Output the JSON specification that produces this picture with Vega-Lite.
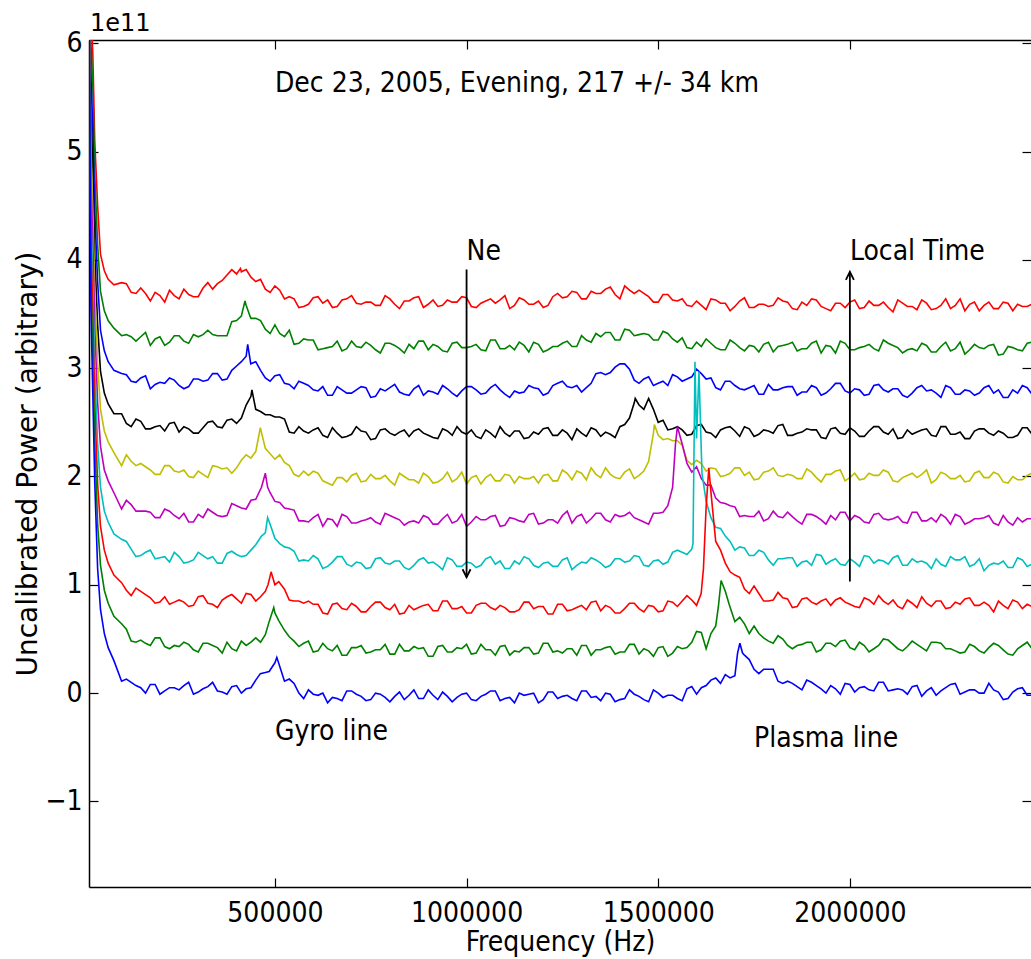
{
"$schema": "https://vega.github.io/schema/vega-lite/v6.json",
"width": 942,
"height": 847,
"autosize": {"type": "none"},
"padding": {"left": 89, "top": 40, "right": 0, "bottom": 72},
"background": "white",
"view": {"stroke": null},
"config": {"font": "DejaVu Sans"},
"datasets": {
"spec": [
{"s":9,"f":15000,"p":6.5},{"s":9,"f":20000,"p":6.3},{"s":9,"f":25000,"p":5.9},{"s":9,"f":30000,"p":5.1},{"s":9,"f":37500,"p":4.5},{"s":9,"f":45000,"p":4.05},{"s":9,"f":55000,"p":3.9},{"s":9,"f":65000,"p":3.82},{"s":9,"f":80000,"p":3.77},
{"s":9,"f":100000,"p":3.79},{"s":9,"f":125000,"p":3.70},{"s":9,"f":150000,"p":3.74},{"s":9,"f":175000,"p":3.62},{"s":9,"f":200000,"p":3.67},{"s":9,"f":225000,"p":3.72},{"s":9,"f":250000,"p":3.64},{"s":9,"f":275000,"p":3.68},{"s":9,"f":300000,"p":3.66},{"s":9,"f":325000,"p":3.79},{"s":9,"f":350000,"p":3.78},{"s":9,"f":375000,"p":3.86},{"s":9,"f":400000,"p":3.87},{"s":9,"f":410000,"p":3.92},{"s":9,"f":425000,"p":3.91},{"s":9,"f":450000,"p":3.80},{"s":9,"f":475000,"p":3.73},{"s":9,"f":500000,"p":3.76},{"s":9,"f":525000,"p":3.64},{"s":9,"f":550000,"p":3.64},{"s":9,"f":575000,"p":3.57},{"s":9,"f":600000,"p":3.65},{"s":9,"f":625000,"p":3.60},{"s":9,"f":650000,"p":3.56},{"s":9,"f":675000,"p":3.63},{"s":9,"f":700000,"p":3.67},{"s":9,"f":725000,"p":3.59},{"s":9,"f":750000,"p":3.61},{"s":9,"f":775000,"p":3.58},{"s":9,"f":800000,"p":3.64},{"s":9,"f":825000,"p":3.55},{"s":9,"f":850000,"p":3.62},{"s":9,"f":875000,"p":3.66},{"s":9,"f":900000,"p":3.59},{"s":9,"f":925000,"p":3.57},{"s":9,"f":950000,"p":3.63},{"s":9,"f":975000,"p":3.61},{"s":9,"f":1000000,"p":3.65},{"s":9,"f":1025000,"p":3.56},{"s":9,"f":1050000,"p":3.62},{"s":9,"f":1075000,"p":3.60},{"s":9,"f":1100000,"p":3.67},{"s":9,"f":1125000,"p":3.58},{"s":9,"f":1150000,"p":3.63},{"s":9,"f":1175000,"p":3.59},{"s":9,"f":1200000,"p":3.56},{"s":9,"f":1225000,"p":3.66},{"s":9,"f":1250000,"p":3.65},{"s":9,"f":1275000,"p":3.71},{"s":9,"f":1300000,"p":3.64},{"s":9,"f":1325000,"p":3.71},{"s":9,"f":1350000,"p":3.69},{"s":9,"f":1375000,"p":3.75},{"s":9,"f":1400000,"p":3.64},{"s":9,"f":1425000,"p":3.72},{"s":9,"f":1450000,"p":3.72},{"s":9,"f":1475000,"p":3.66},{"s":9,"f":1500000,"p":3.61},{"s":9,"f":1525000,"p":3.68},{"s":9,"f":1550000,"p":3.62},{"s":9,"f":1575000,"p":3.58},{"s":9,"f":1600000,"p":3.62},{"s":9,"f":1625000,"p":3.54},{"s":9,"f":1650000,"p":3.63},{"s":9,"f":1675000,"p":3.60},{"s":9,"f":1700000,"p":3.57},{"s":9,"f":1725000,"p":3.65},{"s":9,"f":1750000,"p":3.56},{"s":9,"f":1775000,"p":3.59},{"s":9,"f":1800000,"p":3.58},{"s":9,"f":1825000,"p":3.62},{"s":9,"f":1850000,"p":3.55},{"s":9,"f":1875000,"p":3.61},{"s":9,"f":1900000,"p":3.64},{"s":9,"f":1925000,"p":3.57},{"s":9,"f":1950000,"p":3.53},{"s":9,"f":1975000,"p":3.60},{"s":9,"f":2000000,"p":3.61},{"s":9,"f":2025000,"p":3.55},{"s":9,"f":2050000,"p":3.62},{"s":9,"f":2075000,"p":3.58},{"s":9,"f":2100000,"p":3.56},{"s":9,"f":2125000,"p":3.63},{"s":9,"f":2150000,"p":3.57},{"s":9,"f":2175000,"p":3.54},{"s":9,"f":2200000,"p":3.60},{"s":9,"f":2225000,"p":3.55},{"s":9,"f":2250000,"p":3.64},{"s":9,"f":2275000,"p":3.58},{"s":9,"f":2300000,"p":3.53},{"s":9,"f":2325000,"p":3.61},{"s":9,"f":2350000,"p":3.58},{"s":9,"f":2375000,"p":3.55},{"s":9,"f":2400000,"p":3.61},{"s":9,"f":2425000,"p":3.53},{"s":9,"f":2450000,"p":3.57},{"s":9,"f":2475000,"p":3.59},
{"s":9,"f":112500,"p":3.78},{"s":9,"f":137500,"p":3.69},{"s":9,"f":162500,"p":3.69},{"s":9,"f":187500,"p":3.70},{"s":9,"f":212500,"p":3.61},{"s":9,"f":237500,"p":3.67},{"s":9,"f":262500,"p":3.73},{"s":9,"f":287500,"p":3.66},{"s":9,"f":312500,"p":3.74},{"s":9,"f":337500,"p":3.73},{"s":9,"f":362500,"p":3.81},{"s":9,"f":387500,"p":3.91},{"s":9,"f":412500,"p":3.89},{"s":9,"f":437500,"p":3.84},{"s":9,"f":462500,"p":3.82},{"s":9,"f":487500,"p":3.70},{"s":9,"f":512500,"p":3.72},{"s":9,"f":537500,"p":3.66},{"s":9,"f":562500,"p":3.56},{"s":9,"f":587500,"p":3.59},{"s":9,"f":612500,"p":3.66},{"s":9,"f":637500,"p":3.63},{"s":9,"f":662500,"p":3.57},{"s":9,"f":687500,"p":3.64},{"s":9,"f":712500,"p":3.60},{"s":9,"f":737500,"p":3.61},{"s":9,"f":762500,"p":3.58},{"s":9,"f":787500,"p":3.67},{"s":9,"f":812500,"p":3.59},{"s":9,"f":837500,"p":3.62},{"s":9,"f":862500,"p":3.65},{"s":9,"f":887500,"p":3.56},{"s":9,"f":912500,"p":3.63},{"s":9,"f":937500,"p":3.58},{"s":9,"f":962500,"p":3.61},{"s":9,"f":987500,"p":3.66},{"s":9,"f":1012500,"p":3.57},{"s":9,"f":1037500,"p":3.60},{"s":9,"f":1062500,"p":3.64},{"s":9,"f":1087500,"p":3.63},{"s":9,"f":1112500,"p":3.55},{"s":9,"f":1137500,"p":3.65},{"s":9,"f":1162500,"p":3.59},{"s":9,"f":1187500,"p":3.62},{"s":9,"f":1212500,"p":3.58},{"s":9,"f":1237500,"p":3.69},{"s":9,"f":1262500,"p":3.66},{"s":9,"f":1287500,"p":3.70},{"s":9,"f":1312500,"p":3.64},{"s":9,"f":1337500,"p":3.69},{"s":9,"f":1362500,"p":3.73},{"s":9,"f":1387500,"p":3.68},{"s":9,"f":1412500,"p":3.76},{"s":9,"f":1437500,"p":3.69},{"s":9,"f":1462500,"p":3.69},{"s":9,"f":1487500,"p":3.61},{"s":9,"f":1512500,"p":3.68},{"s":9,"f":1537500,"p":3.63},{"s":9,"f":1562500,"p":3.64},{"s":9,"f":1587500,"p":3.57},{"s":9,"f":1612500,"p":3.58},{"s":9,"f":1637500,"p":3.64},{"s":9,"f":1662500,"p":3.60},{"s":9,"f":1687500,"p":3.53},{"s":9,"f":1712500,"p":3.62},{"s":9,"f":1737500,"p":3.56},{"s":9,"f":1762500,"p":3.59},{"s":9,"f":1787500,"p":3.57},{"s":9,"f":1812500,"p":3.65},{"s":9,"f":1837500,"p":3.61},{"s":9,"f":1862500,"p":3.54},{"s":9,"f":1887500,"p":3.58},{"s":9,"f":1912500,"p":3.63},{"s":9,"f":1937500,"p":3.55},{"s":9,"f":1962500,"p":3.60},{"s":9,"f":1987500,"p":3.56},{"s":9,"f":2012500,"p":3.63},{"s":9,"f":2037500,"p":3.56},{"s":9,"f":2062500,"p":3.58},{"s":9,"f":2087500,"p":3.61},{"s":9,"f":2112500,"p":3.52},{"s":9,"f":2137500,"p":3.60},{"s":9,"f":2162500,"p":3.57},{"s":9,"f":2187500,"p":3.63},{"s":9,"f":2212500,"p":3.54},{"s":9,"f":2237500,"p":3.58},{"s":9,"f":2262500,"p":3.55},{"s":9,"f":2287500,"p":3.64},{"s":9,"f":2312500,"p":3.59},{"s":9,"f":2337500,"p":3.53},{"s":9,"f":2362500,"p":3.61},{"s":9,"f":2387500,"p":3.55},{"s":9,"f":2412500,"p":3.60},{"s":9,"f":2437500,"p":3.59},{"s":9,"f":2462500,"p":3.57},
{"s":8,"f":15000,"p":6.5},{"s":8,"f":20000,"p":6.0},{"s":8,"f":25000,"p":5.6},{"s":8,"f":30000,"p":4.8},{"s":8,"f":37500,"p":4.14},{"s":8,"f":45000,"p":3.71},{"s":8,"f":55000,"p":3.53},{"s":8,"f":65000,"p":3.44},{"s":8,"f":80000,"p":3.37},
{"s":8,"f":100000,"p":3.30},{"s":8,"f":125000,"p":3.29},{"s":8,"f":150000,"p":3.29},{"s":8,"f":175000,"p":3.21},{"s":8,"f":200000,"p":3.29},{"s":8,"f":225000,"p":3.24},{"s":8,"f":250000,"p":3.30},{"s":8,"f":275000,"p":3.23},{"s":8,"f":300000,"p":3.29},{"s":8,"f":325000,"p":3.35},{"s":8,"f":350000,"p":3.30},{"s":8,"f":375000,"p":3.30},{"s":8,"f":400000,"p":3.44},{"s":8,"f":415000,"p":3.52},{"s":8,"f":422000,"p":3.62},{"s":8,"f":425000,"p":3.58},{"s":8,"f":435000,"p":3.48},{"s":8,"f":450000,"p":3.46},{"s":8,"f":475000,"p":3.36},{"s":8,"f":500000,"p":3.40},{"s":8,"f":525000,"p":3.29},{"s":8,"f":550000,"p":3.22},{"s":8,"f":575000,"p":3.27},{"s":8,"f":600000,"p":3.26},{"s":8,"f":625000,"p":3.18},{"s":8,"f":650000,"p":3.20},{"s":8,"f":675000,"p":3.16},{"s":8,"f":700000,"p":3.25},{"s":8,"f":725000,"p":3.19},{"s":8,"f":750000,"p":3.21},{"s":8,"f":775000,"p":3.14},{"s":8,"f":800000,"p":3.23},{"s":8,"f":825000,"p":3.18},{"s":8,"f":850000,"p":3.22},{"s":8,"f":875000,"p":3.25},{"s":8,"f":900000,"p":3.17},{"s":8,"f":925000,"p":3.20},{"s":8,"f":950000,"p":3.15},{"s":8,"f":975000,"p":3.24},{"s":8,"f":1000000,"p":3.19},{"s":8,"f":1025000,"p":3.22},{"s":8,"f":1050000,"p":3.16},{"s":8,"f":1075000,"p":3.26},{"s":8,"f":1100000,"p":3.18},{"s":8,"f":1125000,"p":3.17},{"s":8,"f":1150000,"p":3.21},{"s":8,"f":1175000,"p":3.24},{"s":8,"f":1200000,"p":3.15},{"s":8,"f":1225000,"p":3.20},{"s":8,"f":1250000,"p":3.23},{"s":8,"f":1275000,"p":3.20},{"s":8,"f":1300000,"p":3.30},{"s":8,"f":1325000,"p":3.24},{"s":8,"f":1350000,"p":3.29},{"s":8,"f":1375000,"p":3.33},{"s":8,"f":1400000,"p":3.26},{"s":8,"f":1425000,"p":3.35},{"s":8,"f":1450000,"p":3.31},{"s":8,"f":1475000,"p":3.31},{"s":8,"f":1500000,"p":3.26},{"s":8,"f":1525000,"p":3.32},{"s":8,"f":1550000,"p":3.24},{"s":8,"f":1575000,"p":3.19},{"s":8,"f":1600000,"p":3.24},{"s":8,"f":1625000,"p":3.27},{"s":8,"f":1650000,"p":3.19},{"s":8,"f":1675000,"p":3.17},{"s":8,"f":1700000,"p":3.23},{"s":8,"f":1725000,"p":3.16},{"s":8,"f":1750000,"p":3.20},{"s":8,"f":1775000,"p":3.22},{"s":8,"f":1800000,"p":3.15},{"s":8,"f":1825000,"p":3.21},{"s":8,"f":1850000,"p":3.24},{"s":8,"f":1875000,"p":3.18},{"s":8,"f":1900000,"p":3.23},{"s":8,"f":1925000,"p":3.14},{"s":8,"f":1950000,"p":3.20},{"s":8,"f":1975000,"p":3.25},{"s":8,"f":2000000,"p":3.17},{"s":8,"f":2025000,"p":3.19},{"s":8,"f":2050000,"p":3.22},{"s":8,"f":2075000,"p":3.16},{"s":8,"f":2100000,"p":3.23},{"s":8,"f":2125000,"p":3.19},{"s":8,"f":2150000,"p":3.17},{"s":8,"f":2175000,"p":3.16},{"s":8,"f":2200000,"p":3.21},{"s":8,"f":2225000,"p":3.15},{"s":8,"f":2250000,"p":3.24},{"s":8,"f":2275000,"p":3.18},{"s":8,"f":2300000,"p":3.13},{"s":8,"f":2325000,"p":3.22},{"s":8,"f":2350000,"p":3.18},{"s":8,"f":2375000,"p":3.22},{"s":8,"f":2400000,"p":3.13},{"s":8,"f":2425000,"p":3.19},{"s":8,"f":2450000,"p":3.16},{"s":8,"f":2475000,"p":3.24},
{"s":8,"f":112500,"p":3.31},{"s":8,"f":137500,"p":3.25},{"s":8,"f":162500,"p":3.33},{"s":8,"f":187500,"p":3.27},{"s":8,"f":212500,"p":3.21},{"s":8,"f":237500,"p":3.30},{"s":8,"f":262500,"p":3.25},{"s":8,"f":287500,"p":3.31},{"s":8,"f":312500,"p":3.31},{"s":8,"f":337500,"p":3.31},{"s":8,"f":362500,"p":3.30},{"s":8,"f":387500,"p":3.43},{"s":8,"f":412500,"p":3.48},{"s":8,"f":437500,"p":3.46},{"s":8,"f":462500,"p":3.44},{"s":8,"f":487500,"p":3.32},{"s":8,"f":512500,"p":3.32},{"s":8,"f":537500,"p":3.35},{"s":8,"f":562500,"p":3.23},{"s":8,"f":587500,"p":3.26},{"s":8,"f":612500,"p":3.17},{"s":8,"f":637500,"p":3.19},{"s":8,"f":662500,"p":3.25},{"s":8,"f":687500,"p":3.18},{"s":8,"f":712500,"p":3.20},{"s":8,"f":737500,"p":3.24},{"s":8,"f":762500,"p":3.17},{"s":8,"f":787500,"p":3.23},{"s":8,"f":812500,"p":3.21},{"s":8,"f":837500,"p":3.14},{"s":8,"f":862500,"p":3.18},{"s":8,"f":887500,"p":3.25},{"s":8,"f":912500,"p":3.22},{"s":8,"f":937500,"p":3.16},{"s":8,"f":962500,"p":3.23},{"s":8,"f":987500,"p":3.19},{"s":8,"f":1012500,"p":3.20},{"s":8,"f":1037500,"p":3.17},{"s":8,"f":1062500,"p":3.26},{"s":8,"f":1087500,"p":3.18},{"s":8,"f":1112500,"p":3.21},{"s":8,"f":1137500,"p":3.24},{"s":8,"f":1162500,"p":3.15},{"s":8,"f":1187500,"p":3.22},{"s":8,"f":1212500,"p":3.17},{"s":8,"f":1237500,"p":3.20},{"s":8,"f":1262500,"p":3.25},{"s":8,"f":1287500,"p":3.20},{"s":8,"f":1312500,"p":3.26},{"s":8,"f":1337500,"p":3.32},{"s":8,"f":1362500,"p":3.33},{"s":8,"f":1387500,"p":3.26},{"s":8,"f":1412500,"p":3.36},{"s":8,"f":1437500,"p":3.30},{"s":8,"f":1462500,"p":3.32},{"s":8,"f":1487500,"p":3.26},{"s":8,"f":1512500,"p":3.34},{"s":8,"f":1537500,"p":3.27},{"s":8,"f":1562500,"p":3.28},{"s":8,"f":1587500,"p":3.18},{"s":8,"f":1612500,"p":3.20},{"s":8,"f":1637500,"p":3.23},{"s":8,"f":1662500,"p":3.17},{"s":8,"f":1687500,"p":3.26},{"s":8,"f":1712500,"p":3.19},{"s":8,"f":1737500,"p":3.21},{"s":8,"f":1762500,"p":3.15},{"s":8,"f":1787500,"p":3.24},{"s":8,"f":1812500,"p":3.20},{"s":8,"f":1837500,"p":3.22},{"s":8,"f":1862500,"p":3.16},{"s":8,"f":1887500,"p":3.18},{"s":8,"f":1912500,"p":3.25},{"s":8,"f":1937500,"p":3.21},{"s":8,"f":1962500,"p":3.14},{"s":8,"f":1987500,"p":3.23},{"s":8,"f":2012500,"p":3.17},{"s":8,"f":2037500,"p":3.20},{"s":8,"f":2062500,"p":3.18},{"s":8,"f":2087500,"p":3.26},{"s":8,"f":2112500,"p":3.21},{"s":8,"f":2137500,"p":3.14},{"s":8,"f":2162500,"p":3.18},{"s":8,"f":2187500,"p":3.23},{"s":8,"f":2212500,"p":3.15},{"s":8,"f":2237500,"p":3.20},{"s":8,"f":2262500,"p":3.16},{"s":8,"f":2287500,"p":3.24},{"s":8,"f":2312500,"p":3.17},{"s":8,"f":2337500,"p":3.19},{"s":8,"f":2362500,"p":3.21},{"s":8,"f":2387500,"p":3.12},{"s":8,"f":2412500,"p":3.20},{"s":8,"f":2437500,"p":3.17},{"s":8,"f":2462500,"p":3.23},
{"s":7,"f":15000,"p":6.5},{"s":7,"f":20000,"p":5.7},{"s":7,"f":25000,"p":5.2},{"s":7,"f":30000,"p":4.45},{"s":7,"f":37500,"p":3.8},{"s":7,"f":45000,"p":3.35},{"s":7,"f":55000,"p":3.16},{"s":7,"f":65000,"p":3.06},{"s":7,"f":80000,"p":2.98},
{"s":7,"f":100000,"p":2.95},{"s":7,"f":125000,"p":2.88},{"s":7,"f":150000,"p":2.91},{"s":7,"f":175000,"p":2.81},{"s":7,"f":200000,"p":2.87},{"s":7,"f":225000,"p":2.91},{"s":7,"f":250000,"p":2.84},{"s":7,"f":275000,"p":2.83},{"s":7,"f":300000,"p":2.90},{"s":7,"f":325000,"p":2.89},{"s":7,"f":350000,"p":2.95},{"s":7,"f":375000,"p":2.90},{"s":7,"f":400000,"p":3.02},{"s":7,"f":425000,"p":3.11},{"s":7,"f":429000,"p":3.22},{"s":7,"f":437000,"p":3.04},{"s":7,"f":450000,"p":3.06},{"s":7,"f":475000,"p":2.91},{"s":7,"f":500000,"p":2.93},{"s":7,"f":525000,"p":2.86},{"s":7,"f":550000,"p":2.81},{"s":7,"f":575000,"p":2.86},{"s":7,"f":600000,"p":2.80},{"s":7,"f":625000,"p":2.83},{"s":7,"f":650000,"p":2.75},{"s":7,"f":675000,"p":2.80},{"s":7,"f":700000,"p":2.77},{"s":7,"f":725000,"p":2.83},{"s":7,"f":750000,"p":2.73},{"s":7,"f":775000,"p":2.81},{"s":7,"f":800000,"p":2.82},{"s":7,"f":825000,"p":2.78},{"s":7,"f":850000,"p":2.75},{"s":7,"f":875000,"p":2.84},{"s":7,"f":900000,"p":2.79},{"s":7,"f":925000,"p":2.76},{"s":7,"f":950000,"p":2.81},{"s":7,"f":975000,"p":2.74},{"s":7,"f":1000000,"p":2.83},{"s":7,"f":1025000,"p":2.80},{"s":7,"f":1050000,"p":2.77},{"s":7,"f":1075000,"p":2.85},{"s":7,"f":1100000,"p":2.76},{"s":7,"f":1125000,"p":2.79},{"s":7,"f":1150000,"p":2.78},{"s":7,"f":1175000,"p":2.82},{"s":7,"f":1200000,"p":2.75},{"s":7,"f":1225000,"p":2.84},{"s":7,"f":1250000,"p":2.88},{"s":7,"f":1275000,"p":2.82},{"s":7,"f":1300000,"p":2.78},{"s":7,"f":1325000,"p":2.86},{"s":7,"f":1350000,"p":2.96},{"s":7,"f":1375000,"p":2.96},{"s":7,"f":1400000,"p":3.04},{"s":7,"f":1425000,"p":2.99},{"s":7,"f":1450000,"p":2.86},{"s":7,"f":1475000,"p":2.92},{"s":7,"f":1500000,"p":2.86},{"s":7,"f":1525000,"p":2.84},{"s":7,"f":1550000,"p":2.92},{"s":7,"f":1575000,"p":2.90},{"s":7,"f":1600000,"p":2.99},{"s":7,"f":1625000,"p":2.90},{"s":7,"f":1650000,"p":2.82},{"s":7,"f":1675000,"p":2.88},{"s":7,"f":1700000,"p":2.84},{"s":7,"f":1725000,"p":2.80},{"s":7,"f":1750000,"p":2.84},{"s":7,"f":1775000,"p":2.76},{"s":7,"f":1800000,"p":2.80},{"s":7,"f":1825000,"p":2.82},{"s":7,"f":1850000,"p":2.83},{"s":7,"f":1875000,"p":2.78},{"s":7,"f":1900000,"p":2.84},{"s":7,"f":1925000,"p":2.75},{"s":7,"f":1950000,"p":2.81},{"s":7,"f":1975000,"p":2.86},{"s":7,"f":2000000,"p":2.77},{"s":7,"f":2025000,"p":2.80},{"s":7,"f":2050000,"p":2.76},{"s":7,"f":2075000,"p":2.85},{"s":7,"f":2100000,"p":2.78},{"s":7,"f":2125000,"p":2.81},{"s":7,"f":2150000,"p":2.73},{"s":7,"f":2175000,"p":2.82},{"s":7,"f":2200000,"p":2.79},{"s":7,"f":2225000,"p":2.77},{"s":7,"f":2250000,"p":2.84},{"s":7,"f":2275000,"p":2.76},{"s":7,"f":2300000,"p":2.80},{"s":7,"f":2325000,"p":2.75},{"s":7,"f":2350000,"p":2.82},{"s":7,"f":2375000,"p":2.77},{"s":7,"f":2400000,"p":2.73},{"s":7,"f":2425000,"p":2.80},{"s":7,"f":2450000,"p":2.84},{"s":7,"f":2475000,"p":2.76},
{"s":7,"f":112500,"p":2.94},{"s":7,"f":137500,"p":2.87},{"s":7,"f":162500,"p":2.93},{"s":7,"f":187500,"p":2.85},{"s":7,"f":212500,"p":2.86},{"s":7,"f":237500,"p":2.89},{"s":7,"f":262500,"p":2.81},{"s":7,"f":287500,"p":2.90},{"s":7,"f":312500,"p":2.88},{"s":7,"f":337500,"p":2.95},{"s":7,"f":362500,"p":2.89},{"s":7,"f":387500,"p":2.98},{"s":7,"f":412500,"p":3.06},{"s":7,"f":462500,"p":2.98},{"s":7,"f":487500,"p":2.88},{"s":7,"f":512500,"p":2.94},{"s":7,"f":537500,"p":2.85},{"s":7,"f":562500,"p":2.88},{"s":7,"f":587500,"p":2.84},{"s":7,"f":612500,"p":2.79},{"s":7,"f":637500,"p":2.75},{"s":7,"f":662500,"p":2.83},{"s":7,"f":687500,"p":2.77},{"s":7,"f":712500,"p":2.80},{"s":7,"f":737500,"p":2.82},{"s":7,"f":762500,"p":2.74},{"s":7,"f":787500,"p":2.79},{"s":7,"f":812500,"p":2.85},{"s":7,"f":837500,"p":2.76},{"s":7,"f":862500,"p":2.81},{"s":7,"f":887500,"p":2.75},{"s":7,"f":912500,"p":2.78},{"s":7,"f":937500,"p":2.84},{"s":7,"f":962500,"p":2.77},{"s":7,"f":987500,"p":2.79},{"s":7,"f":1012500,"p":2.83},{"s":7,"f":1037500,"p":2.76},{"s":7,"f":1062500,"p":2.82},{"s":7,"f":1087500,"p":2.80},{"s":7,"f":1112500,"p":2.73},{"s":7,"f":1137500,"p":2.77},{"s":7,"f":1162500,"p":2.84},{"s":7,"f":1187500,"p":2.81},{"s":7,"f":1212500,"p":2.77},{"s":7,"f":1237500,"p":2.86},{"s":7,"f":1262500,"p":2.83},{"s":7,"f":1287500,"p":2.84},{"s":7,"f":1312500,"p":2.82},{"s":7,"f":1337500,"p":2.95},{"s":7,"f":1362500,"p":2.94},{"s":7,"f":1387500,"p":3.01},{"s":7,"f":1412500,"p":3.04},{"s":7,"f":1437500,"p":2.89},{"s":7,"f":1462500,"p":2.90},{"s":7,"f":1487500,"p":2.84},{"s":7,"f":1512500,"p":2.88},{"s":7,"f":1537500,"p":2.94},{"s":7,"f":1562500,"p":2.88},{"s":7,"f":1587500,"p":2.92},{"s":7,"f":1612500,"p":2.95},{"s":7,"f":1637500,"p":2.91},{"s":7,"f":1662500,"p":2.80},{"s":7,"f":1687500,"p":2.88},{"s":7,"f":1712500,"p":2.81},{"s":7,"f":1737500,"p":2.82},{"s":7,"f":1762500,"p":2.76},{"s":7,"f":1787500,"p":2.85},{"s":7,"f":1812500,"p":2.80},{"s":7,"f":1837500,"p":2.83},{"s":7,"f":1862500,"p":2.75},{"s":7,"f":1887500,"p":2.78},{"s":7,"f":1912500,"p":2.82},{"s":7,"f":1937500,"p":2.77},{"s":7,"f":1962500,"p":2.86},{"s":7,"f":1987500,"p":2.79},{"s":7,"f":2012500,"p":2.81},{"s":7,"f":2037500,"p":2.75},{"s":7,"f":2062500,"p":2.84},{"s":7,"f":2087500,"p":2.80},{"s":7,"f":2112500,"p":2.81},{"s":7,"f":2137500,"p":2.75},{"s":7,"f":2162500,"p":2.77},{"s":7,"f":2187500,"p":2.84},{"s":7,"f":2212500,"p":2.80},{"s":7,"f":2237500,"p":2.73},{"s":7,"f":2262500,"p":2.82},{"s":7,"f":2287500,"p":2.76},{"s":7,"f":2312500,"p":2.79},{"s":7,"f":2337500,"p":2.77},{"s":7,"f":2362500,"p":2.84},{"s":7,"f":2387500,"p":2.80},{"s":7,"f":2412500,"p":2.73},{"s":7,"f":2437500,"p":2.77},{"s":7,"f":2462500,"p":2.82},
{"s":6,"f":15000,"p":6.5},{"s":6,"f":20000,"p":5.35},{"s":6,"f":25000,"p":4.85},{"s":6,"f":30000,"p":4.05},{"s":6,"f":37500,"p":3.4},{"s":6,"f":45000,"p":2.97},{"s":6,"f":55000,"p":2.77},{"s":6,"f":65000,"p":2.67},{"s":6,"f":80000,"p":2.58},
{"s":6,"f":100000,"p":2.58},{"s":6,"f":125000,"p":2.46},{"s":6,"f":150000,"p":2.51},{"s":6,"f":175000,"p":2.44},{"s":6,"f":200000,"p":2.47},{"s":6,"f":225000,"p":2.49},{"s":6,"f":250000,"p":2.41},{"s":6,"f":275000,"p":2.44},{"s":6,"f":300000,"p":2.40},{"s":6,"f":325000,"p":2.50},{"s":6,"f":350000,"p":2.46},{"s":6,"f":375000,"p":2.52},{"s":6,"f":400000,"p":2.49},{"s":6,"f":425000,"p":2.66},{"s":6,"f":440000,"p":2.80},{"s":6,"f":450000,"p":2.62},{"s":6,"f":475000,"p":2.57},{"s":6,"f":500000,"p":2.55},{"s":6,"f":525000,"p":2.53},{"s":6,"f":550000,"p":2.40},{"s":6,"f":575000,"p":2.42},{"s":6,"f":600000,"p":2.43},{"s":6,"f":625000,"p":2.38},{"s":6,"f":650000,"p":2.45},{"s":6,"f":675000,"p":2.36},{"s":6,"f":700000,"p":2.39},{"s":6,"f":725000,"p":2.42},{"s":6,"f":750000,"p":2.34},{"s":6,"f":775000,"p":2.43},{"s":6,"f":800000,"p":2.40},{"s":6,"f":825000,"p":2.41},{"s":6,"f":850000,"p":2.37},{"s":6,"f":875000,"p":2.44},{"s":6,"f":900000,"p":2.38},{"s":6,"f":925000,"p":2.35},{"s":6,"f":950000,"p":2.42},{"s":6,"f":975000,"p":2.46},{"s":6,"f":1000000,"p":2.39},{"s":6,"f":1025000,"p":2.37},{"s":6,"f":1050000,"p":2.43},{"s":6,"f":1075000,"p":2.36},{"s":6,"f":1100000,"p":2.40},{"s":6,"f":1125000,"p":2.42},{"s":6,"f":1150000,"p":2.35},{"s":6,"f":1175000,"p":2.41},{"s":6,"f":1200000,"p":2.44},{"s":6,"f":1225000,"p":2.38},{"s":6,"f":1250000,"p":2.43},{"s":6,"f":1275000,"p":2.34},{"s":6,"f":1300000,"p":2.40},{"s":6,"f":1325000,"p":2.45},{"s":6,"f":1350000,"p":2.37},{"s":6,"f":1375000,"p":2.39},{"s":6,"f":1400000,"p":2.46},{"s":6,"f":1425000,"p":2.54},{"s":6,"f":1440000,"p":2.72},{"s":6,"f":1450000,"p":2.66},{"s":6,"f":1475000,"p":2.72},{"s":6,"f":1500000,"p":2.50},{"s":6,"f":1525000,"p":2.43},{"s":6,"f":1550000,"p":2.46},{"s":6,"f":1575000,"p":2.38},{"s":6,"f":1600000,"p":2.47},{"s":6,"f":1625000,"p":2.41},{"s":6,"f":1650000,"p":2.36},{"s":6,"f":1675000,"p":2.45},{"s":6,"f":1700000,"p":2.42},{"s":6,"f":1725000,"p":2.46},{"s":6,"f":1750000,"p":2.37},{"s":6,"f":1775000,"p":2.43},{"s":6,"f":1800000,"p":2.40},{"s":6,"f":1825000,"p":2.48},{"s":6,"f":1850000,"p":2.38},{"s":6,"f":1875000,"p":2.41},{"s":6,"f":1900000,"p":2.43},{"s":6,"f":1925000,"p":2.36},{"s":6,"f":1950000,"p":2.44},{"s":6,"f":1975000,"p":2.40},{"s":6,"f":2000000,"p":2.45},{"s":6,"f":2025000,"p":2.37},{"s":6,"f":2050000,"p":2.42},{"s":6,"f":2075000,"p":2.46},{"s":6,"f":2100000,"p":2.39},{"s":6,"f":2125000,"p":2.35},{"s":6,"f":2150000,"p":2.43},{"s":6,"f":2175000,"p":2.41},{"s":6,"f":2200000,"p":2.44},{"s":6,"f":2225000,"p":2.37},{"s":6,"f":2250000,"p":2.46},{"s":6,"f":2275000,"p":2.39},{"s":6,"f":2300000,"p":2.35},{"s":6,"f":2325000,"p":2.42},{"s":6,"f":2350000,"p":2.44},{"s":6,"f":2375000,"p":2.38},{"s":6,"f":2400000,"p":2.40},{"s":6,"f":2425000,"p":2.36},{"s":6,"f":2450000,"p":2.45},{"s":6,"f":2475000,"p":2.39},
{"s":6,"f":112500,"p":2.49},{"s":6,"f":137500,"p":2.53},{"s":6,"f":162500,"p":2.44},{"s":6,"f":187500,"p":2.46},{"s":6,"f":212500,"p":2.42},{"s":6,"f":237500,"p":2.50},{"s":6,"f":262500,"p":2.46},{"s":6,"f":287500,"p":2.40},{"s":6,"f":312500,"p":2.45},{"s":6,"f":337500,"p":2.51},{"s":6,"f":362500,"p":2.45},{"s":6,"f":387500,"p":2.53},{"s":6,"f":412500,"p":2.54},{"s":6,"f":437500,"p":2.74},{"s":6,"f":462500,"p":2.60},{"s":6,"f":487500,"p":2.57},{"s":6,"f":512500,"p":2.55},{"s":6,"f":537500,"p":2.41},{"s":6,"f":562500,"p":2.46},{"s":6,"f":587500,"p":2.40},{"s":6,"f":612500,"p":2.45},{"s":6,"f":637500,"p":2.36},{"s":6,"f":662500,"p":2.40},{"s":6,"f":687500,"p":2.37},{"s":6,"f":712500,"p":2.46},{"s":6,"f":737500,"p":2.41},{"s":6,"f":762500,"p":2.35},{"s":6,"f":787500,"p":2.44},{"s":6,"f":812500,"p":2.38},{"s":6,"f":837500,"p":2.43},{"s":6,"f":862500,"p":2.42},{"s":6,"f":887500,"p":2.40},{"s":6,"f":912500,"p":2.36},{"s":6,"f":937500,"p":2.44},{"s":6,"f":962500,"p":2.38},{"s":6,"f":987500,"p":2.41},{"s":6,"f":1012500,"p":2.43},{"s":6,"f":1037500,"p":2.35},{"s":6,"f":1062500,"p":2.40},{"s":6,"f":1087500,"p":2.46},{"s":6,"f":1112500,"p":2.37},{"s":6,"f":1137500,"p":2.42},{"s":6,"f":1162500,"p":2.36},{"s":6,"f":1187500,"p":2.39},{"s":6,"f":1212500,"p":2.45},{"s":6,"f":1237500,"p":2.38},{"s":6,"f":1262500,"p":2.40},{"s":6,"f":1287500,"p":2.44},{"s":6,"f":1312500,"p":2.37},{"s":6,"f":1337500,"p":2.43},{"s":6,"f":1362500,"p":2.41},{"s":6,"f":1387500,"p":2.36},{"s":6,"f":1412500,"p":2.48},{"s":6,"f":1437500,"p":2.68},{"s":6,"f":1462500,"p":2.62},{"s":6,"f":1487500,"p":2.62},{"s":6,"f":1512500,"p":2.52},{"s":6,"f":1537500,"p":2.44},{"s":6,"f":1562500,"p":2.43},{"s":6,"f":1587500,"p":2.39},{"s":6,"f":1612500,"p":2.48},{"s":6,"f":1637500,"p":2.40},{"s":6,"f":1662500,"p":2.43},{"s":6,"f":1687500,"p":2.46},{"s":6,"f":1712500,"p":2.37},{"s":6,"f":1737500,"p":2.44},{"s":6,"f":1762500,"p":2.39},{"s":6,"f":1787500,"p":2.42},{"s":6,"f":1812500,"p":2.47},{"s":6,"f":1837500,"p":2.38},{"s":6,"f":1862500,"p":2.40},{"s":6,"f":1887500,"p":2.44},{"s":6,"f":1912500,"p":2.43},{"s":6,"f":1937500,"p":2.35},{"s":6,"f":1962500,"p":2.45},{"s":6,"f":1987500,"p":2.39},{"s":6,"f":2012500,"p":2.42},{"s":6,"f":2037500,"p":2.37},{"s":6,"f":2062500,"p":2.46},{"s":6,"f":2087500,"p":2.41},{"s":6,"f":2112500,"p":2.44},{"s":6,"f":2137500,"p":2.36},{"s":6,"f":2162500,"p":2.39},{"s":6,"f":2187500,"p":2.43},{"s":6,"f":2212500,"p":2.38},{"s":6,"f":2237500,"p":2.46},{"s":6,"f":2262500,"p":2.39},{"s":6,"f":2287500,"p":2.41},{"s":6,"f":2312500,"p":2.35},{"s":6,"f":2337500,"p":2.44},{"s":6,"f":2362500,"p":2.40},{"s":6,"f":2387500,"p":2.42},{"s":6,"f":2412500,"p":2.36},{"s":6,"f":2437500,"p":2.38},{"s":6,"f":2462500,"p":2.45},
{"s":5,"f":15000,"p":6.5},{"s":5,"f":20000,"p":5.05},{"s":5,"f":25000,"p":4.45},{"s":5,"f":30000,"p":3.7},{"s":5,"f":37500,"p":3.05},{"s":5,"f":45000,"p":2.62},{"s":5,"f":55000,"p":2.42},{"s":5,"f":65000,"p":2.32},{"s":5,"f":80000,"p":2.22},
{"s":5,"f":100000,"p":2.10},{"s":5,"f":125000,"p":2.14},{"s":5,"f":150000,"p":2.12},{"s":5,"f":175000,"p":2.06},{"s":5,"f":200000,"p":2.02},{"s":5,"f":225000,"p":2.10},{"s":5,"f":250000,"p":2.04},{"s":5,"f":275000,"p":2.00},{"s":5,"f":300000,"p":2.05},{"s":5,"f":325000,"p":1.99},{"s":5,"f":350000,"p":2.09},{"s":5,"f":375000,"p":2.08},{"s":5,"f":400000,"p":2.08},{"s":5,"f":425000,"p":2.20},{"s":5,"f":450000,"p":2.23},{"s":5,"f":462000,"p":2.45},{"s":5,"f":475000,"p":2.26},{"s":5,"f":500000,"p":2.16},{"s":5,"f":525000,"p":2.13},{"s":5,"f":550000,"p":2.02},{"s":5,"f":575000,"p":2.05},{"s":5,"f":600000,"p":2.05},{"s":5,"f":625000,"p":1.96},{"s":5,"f":650000,"p":1.92},{"s":5,"f":675000,"p":1.99},{"s":5,"f":700000,"p":2.01},{"s":5,"f":725000,"p":1.95},{"s":5,"f":750000,"p":2.02},{"s":5,"f":775000,"p":1.98},{"s":5,"f":800000,"p":1.96},{"s":5,"f":825000,"p":2.03},{"s":5,"f":850000,"p":1.97},{"s":5,"f":875000,"p":1.94},{"s":5,"f":900000,"p":2.00},{"s":5,"f":925000,"p":1.95},{"s":5,"f":950000,"p":2.04},{"s":5,"f":975000,"p":1.98},{"s":5,"f":1000000,"p":1.93},{"s":5,"f":1025000,"p":2.01},{"s":5,"f":1050000,"p":1.99},{"s":5,"f":1075000,"p":1.96},{"s":5,"f":1100000,"p":2.02},{"s":5,"f":1125000,"p":1.94},{"s":5,"f":1150000,"p":1.98},{"s":5,"f":1175000,"p":2.00},{"s":5,"f":1200000,"p":2.01},{"s":5,"f":1225000,"p":1.96},{"s":5,"f":1250000,"p":2.06},{"s":5,"f":1275000,"p":1.97},{"s":5,"f":1300000,"p":2.03},{"s":5,"f":1325000,"p":2.08},{"s":5,"f":1350000,"p":1.99},{"s":5,"f":1375000,"p":2.02},{"s":5,"f":1400000,"p":1.98},{"s":5,"f":1425000,"p":2.07},{"s":5,"f":1450000,"p":2.01},{"s":5,"f":1475000,"p":2.14},{"s":5,"f":1490000,"p":2.48},{"s":5,"f":1500000,"p":2.38},{"s":5,"f":1525000,"p":2.35},{"s":5,"f":1550000,"p":2.33},{"s":5,"f":1575000,"p":2.15},{"s":5,"f":1600000,"p":2.15},{"s":5,"f":1625000,"p":2.05},{"s":5,"f":1650000,"p":2.07},{"s":5,"f":1675000,"p":2.01},{"s":5,"f":1700000,"p":2.08},{"s":5,"f":1725000,"p":2.01},{"s":5,"f":1750000,"p":1.97},{"s":5,"f":1775000,"p":2.04},{"s":5,"f":1800000,"p":2.08},{"s":5,"f":1825000,"p":2.00},{"s":5,"f":1850000,"p":2.01},{"s":5,"f":1875000,"p":1.98},{"s":5,"f":1900000,"p":2.04},{"s":5,"f":1925000,"p":1.95},{"s":5,"f":1950000,"p":2.02},{"s":5,"f":1975000,"p":2.06},{"s":5,"f":2000000,"p":1.99},{"s":5,"f":2025000,"p":1.97},{"s":5,"f":2050000,"p":2.03},{"s":5,"f":2075000,"p":2.01},{"s":5,"f":2100000,"p":2.04},{"s":5,"f":2125000,"p":1.95},{"s":5,"f":2150000,"p":2.01},{"s":5,"f":2175000,"p":1.99},{"s":5,"f":2200000,"p":2.06},{"s":5,"f":2225000,"p":1.97},{"s":5,"f":2250000,"p":2.02},{"s":5,"f":2275000,"p":1.98},{"s":5,"f":2300000,"p":1.95},{"s":5,"f":2325000,"p":2.03},{"s":5,"f":2350000,"p":1.99},{"s":5,"f":2375000,"p":2.04},{"s":5,"f":2400000,"p":1.95},{"s":5,"f":2425000,"p":2.00},{"s":5,"f":2450000,"p":1.97},{"s":5,"f":2475000,"p":2.03},
{"s":5,"f":112500,"p":2.20},{"s":5,"f":137500,"p":2.10},{"s":5,"f":162500,"p":2.09},{"s":5,"f":187500,"p":2.02},{"s":5,"f":212500,"p":2.10},{"s":5,"f":237500,"p":2.05},{"s":5,"f":262500,"p":2.06},{"s":5,"f":287500,"p":1.99},{"s":5,"f":312500,"p":2.02},{"s":5,"f":337500,"p":2.10},{"s":5,"f":362500,"p":2.07},{"s":5,"f":387500,"p":2.03},{"s":5,"f":412500,"p":2.15},{"s":5,"f":437500,"p":2.17},{"s":5,"f":487500,"p":2.21},{"s":5,"f":512500,"p":2.20},{"s":5,"f":537500,"p":2.10},{"s":5,"f":562500,"p":2.00},{"s":5,"f":587500,"p":2.01},{"s":5,"f":612500,"p":2.03},{"s":5,"f":637500,"p":1.94},{"s":5,"f":662500,"p":1.99},{"s":5,"f":687500,"p":1.95},{"s":5,"f":712500,"p":2.03},{"s":5,"f":737500,"p":1.96},{"s":5,"f":762500,"p":1.98},{"s":5,"f":787500,"p":2.01},{"s":5,"f":812500,"p":1.92},{"s":5,"f":837500,"p":2.00},{"s":5,"f":862500,"p":1.97},{"s":5,"f":887500,"p":2.03},{"s":5,"f":912500,"p":1.94},{"s":5,"f":937500,"p":1.98},{"s":5,"f":962500,"p":1.95},{"s":5,"f":987500,"p":2.04},{"s":5,"f":1012500,"p":1.99},{"s":5,"f":1037500,"p":1.93},{"s":5,"f":1062500,"p":2.02},{"s":5,"f":1087500,"p":1.96},{"s":5,"f":1112500,"p":2.01},{"s":5,"f":1137500,"p":2.00},{"s":5,"f":1162500,"p":1.98},{"s":5,"f":1187500,"p":1.94},{"s":5,"f":1212500,"p":2.02},{"s":5,"f":1237500,"p":1.96},{"s":5,"f":1262500,"p":2.03},{"s":5,"f":1287500,"p":2.05},{"s":5,"f":1312500,"p":1.97},{"s":5,"f":1337500,"p":2.02},{"s":5,"f":1362500,"p":2.08},{"s":5,"f":1387500,"p":1.99},{"s":5,"f":1412500,"p":2.04},{"s":5,"f":1437500,"p":1.98},{"s":5,"f":1462500,"p":2.05},{"s":5,"f":1487500,"p":2.40},{"s":5,"f":1512500,"p":2.34},{"s":5,"f":1537500,"p":2.33},{"s":5,"f":1562500,"p":2.29},{"s":5,"f":1587500,"p":2.11},{"s":5,"f":1612500,"p":2.12},{"s":5,"f":1637500,"p":2.08},{"s":5,"f":1662500,"p":2.00},{"s":5,"f":1687500,"p":2.03},{"s":5,"f":1712500,"p":2.08},{"s":5,"f":1737500,"p":2.04},{"s":5,"f":1762500,"p":1.98},{"s":5,"f":1787500,"p":2.05},{"s":5,"f":1812500,"p":2.01},{"s":5,"f":1837500,"p":2.02},{"s":5,"f":1862500,"p":1.98},{"s":5,"f":1887500,"p":2.07},{"s":5,"f":1912500,"p":1.99},{"s":5,"f":1937500,"p":2.02},{"s":5,"f":1962500,"p":2.05},{"s":5,"f":1987500,"p":1.96},{"s":5,"f":2012500,"p":2.03},{"s":5,"f":2037500,"p":1.98},{"s":5,"f":2062500,"p":2.01},{"s":5,"f":2087500,"p":2.06},{"s":5,"f":2112500,"p":1.96},{"s":5,"f":2137500,"p":1.99},{"s":5,"f":2162500,"p":2.03},{"s":5,"f":2187500,"p":2.02},{"s":5,"f":2212500,"p":1.94},{"s":5,"f":2237500,"p":2.04},{"s":5,"f":2262500,"p":1.98},{"s":5,"f":2287500,"p":2.01},{"s":5,"f":2312500,"p":1.96},{"s":5,"f":2337500,"p":2.05},{"s":5,"f":2362500,"p":1.99},{"s":5,"f":2387500,"p":2.02},{"s":5,"f":2412500,"p":1.94},{"s":5,"f":2437500,"p":1.97},{"s":5,"f":2462500,"p":2.01},
{"s":4,"f":15000,"p":6.5},{"s":4,"f":20000,"p":4.75},{"s":4,"f":25000,"p":4.15},{"s":4,"f":30000,"p":3.38},{"s":4,"f":37500,"p":2.68},{"s":4,"f":45000,"p":2.28},{"s":4,"f":55000,"p":2.06},{"s":4,"f":65000,"p":1.96},{"s":4,"f":80000,"p":1.85},
{"s":4,"f":100000,"p":1.70},{"s":4,"f":125000,"p":1.74},{"s":4,"f":150000,"p":1.68},{"s":4,"f":175000,"p":1.67},{"s":4,"f":200000,"p":1.62},{"s":4,"f":225000,"p":1.68},{"s":4,"f":250000,"p":1.61},{"s":4,"f":275000,"p":1.58},{"s":4,"f":300000,"p":1.65},{"s":4,"f":325000,"p":1.70},{"s":4,"f":350000,"p":1.64},{"s":4,"f":375000,"p":1.64},{"s":4,"f":400000,"p":1.73},{"s":4,"f":425000,"p":1.70},{"s":4,"f":450000,"p":1.79},{"s":4,"f":465000,"p":1.90},{"s":4,"f":475000,"p":2.03},{"s":4,"f":481000,"p":1.90},{"s":4,"f":500000,"p":1.77},{"s":4,"f":525000,"p":1.71},{"s":4,"f":550000,"p":1.69},{"s":4,"f":575000,"p":1.59},{"s":4,"f":600000,"p":1.62},{"s":4,"f":625000,"p":1.54},{"s":4,"f":650000,"p":1.60},{"s":4,"f":675000,"p":1.65},{"s":4,"f":700000,"p":1.57},{"s":4,"f":725000,"p":1.59},{"s":4,"f":750000,"p":1.62},{"s":4,"f":775000,"p":1.56},{"s":4,"f":800000,"p":1.64},{"s":4,"f":825000,"p":1.60},{"s":4,"f":850000,"p":1.58},{"s":4,"f":875000,"p":1.57},{"s":4,"f":900000,"p":1.62},{"s":4,"f":925000,"p":1.56},{"s":4,"f":950000,"p":1.65},{"s":4,"f":975000,"p":1.59},{"s":4,"f":1000000,"p":1.54},{"s":4,"f":1025000,"p":1.63},{"s":4,"f":1050000,"p":1.60},{"s":4,"f":1075000,"p":1.64},{"s":4,"f":1100000,"p":1.55},{"s":4,"f":1125000,"p":1.61},{"s":4,"f":1150000,"p":1.58},{"s":4,"f":1175000,"p":1.66},{"s":4,"f":1200000,"p":1.57},{"s":4,"f":1225000,"p":1.60},{"s":4,"f":1250000,"p":1.64},{"s":4,"f":1275000,"p":1.57},{"s":4,"f":1300000,"p":1.65},{"s":4,"f":1325000,"p":1.61},{"s":4,"f":1350000,"p":1.66},{"s":4,"f":1375000,"p":1.58},{"s":4,"f":1400000,"p":1.63},{"s":4,"f":1425000,"p":1.67},{"s":4,"f":1450000,"p":1.60},{"s":4,"f":1475000,"p":1.56},{"s":4,"f":1500000,"p":1.66},{"s":4,"f":1525000,"p":1.73},{"s":4,"f":1540000,"p":2.03},{"s":4,"f":1545000,"p":2.30},{"s":4,"f":1550000,"p":2.46},{"s":4,"f":1575000,"p":2.12},{"s":4,"f":1600000,"p":2.09},{"s":4,"f":1625000,"p":1.92},{"s":4,"f":1650000,"p":1.80},{"s":4,"f":1675000,"p":1.75},{"s":4,"f":1700000,"p":1.72},{"s":4,"f":1725000,"p":1.64},{"s":4,"f":1750000,"p":1.63},{"s":4,"f":1775000,"p":1.59},{"s":4,"f":1800000,"p":1.68},{"s":4,"f":1825000,"p":1.62},{"s":4,"f":1850000,"p":1.63},{"s":4,"f":1875000,"p":1.56},{"s":4,"f":1900000,"p":1.65},{"s":4,"f":1925000,"p":1.60},{"s":4,"f":1950000,"p":1.64},{"s":4,"f":1975000,"p":1.67},{"s":4,"f":2000000,"p":1.59},{"s":4,"f":2025000,"p":1.62},{"s":4,"f":2050000,"p":1.57},{"s":4,"f":2075000,"p":1.66},{"s":4,"f":2100000,"p":1.60},{"s":4,"f":2125000,"p":1.63},{"s":4,"f":2150000,"p":1.57},{"s":4,"f":2175000,"p":1.67},{"s":4,"f":2200000,"p":1.59},{"s":4,"f":2225000,"p":1.58},{"s":4,"f":2250000,"p":1.62},{"s":4,"f":2275000,"p":1.65},{"s":4,"f":2300000,"p":1.56},{"s":4,"f":2325000,"p":1.61},{"s":4,"f":2350000,"p":1.62},{"s":4,"f":2375000,"p":1.57},{"s":4,"f":2400000,"p":1.64},{"s":4,"f":2425000,"p":1.55},{"s":4,"f":2450000,"p":1.58},{"s":4,"f":2475000,"p":1.61},
{"s":4,"f":112500,"p":1.78},{"s":4,"f":137500,"p":1.68},{"s":4,"f":162500,"p":1.68},{"s":4,"f":187500,"p":1.62},{"s":4,"f":212500,"p":1.70},{"s":4,"f":237500,"p":1.64},{"s":4,"f":262500,"p":1.66},{"s":4,"f":287500,"p":1.58},{"s":4,"f":312500,"p":1.62},{"s":4,"f":337500,"p":1.67},{"s":4,"f":362500,"p":1.63},{"s":4,"f":387500,"p":1.75},{"s":4,"f":412500,"p":1.71},{"s":4,"f":437500,"p":1.78},{"s":4,"f":487500,"p":1.85},{"s":4,"f":512500,"p":1.76},{"s":4,"f":537500,"p":1.70},{"s":4,"f":562500,"p":1.59},{"s":4,"f":587500,"p":1.58},{"s":4,"f":612500,"p":1.65},{"s":4,"f":637500,"p":1.61},{"s":4,"f":662500,"p":1.54},{"s":4,"f":687500,"p":1.63},{"s":4,"f":712500,"p":1.57},{"s":4,"f":737500,"p":1.60},{"s":4,"f":762500,"p":1.58},{"s":4,"f":787500,"p":1.66},{"s":4,"f":812500,"p":1.62},{"s":4,"f":837500,"p":1.55},{"s":4,"f":862500,"p":1.59},{"s":4,"f":887500,"p":1.64},{"s":4,"f":912500,"p":1.56},{"s":4,"f":937500,"p":1.61},{"s":4,"f":962500,"p":1.57},{"s":4,"f":987500,"p":1.65},{"s":4,"f":1012500,"p":1.58},{"s":4,"f":1037500,"p":1.60},{"s":4,"f":1062500,"p":1.63},{"s":4,"f":1087500,"p":1.54},{"s":4,"f":1112500,"p":1.62},{"s":4,"f":1137500,"p":1.59},{"s":4,"f":1162500,"p":1.65},{"s":4,"f":1187500,"p":1.56},{"s":4,"f":1212500,"p":1.60},{"s":4,"f":1237500,"p":1.57},{"s":4,"f":1262500,"p":1.68},{"s":4,"f":1287500,"p":1.63},{"s":4,"f":1312500,"p":1.57},{"s":4,"f":1337500,"p":1.66},{"s":4,"f":1362500,"p":1.60},{"s":4,"f":1387500,"p":1.65},{"s":4,"f":1412500,"p":1.64},{"s":4,"f":1437500,"p":1.62},{"s":4,"f":1462500,"p":1.58},{"s":4,"f":1487500,"p":1.66},{"s":4,"f":1512500,"p":1.67},{"s":4,"f":1537500,"p":1.90},{"s":4,"f":1562500,"p":2.30},{"s":4,"f":1587500,"p":2.04},{"s":4,"f":1612500,"p":1.98},{"s":4,"f":1637500,"p":1.92},{"s":4,"f":1662500,"p":1.76},{"s":4,"f":1687500,"p":1.73},{"s":4,"f":1712500,"p":1.63},{"s":4,"f":1737500,"p":1.63},{"s":4,"f":1762500,"p":1.68},{"s":4,"f":1787500,"p":1.61},{"s":4,"f":1812500,"p":1.63},{"s":4,"f":1837500,"p":1.67},{"s":4,"f":1862500,"p":1.59},{"s":4,"f":1887500,"p":1.65},{"s":4,"f":1912500,"p":1.63},{"s":4,"f":1937500,"p":1.56},{"s":4,"f":1962500,"p":1.60},{"s":4,"f":1987500,"p":1.67},{"s":4,"f":2012500,"p":1.64},{"s":4,"f":2037500,"p":1.58},{"s":4,"f":2062500,"p":1.65},{"s":4,"f":2087500,"p":1.61},{"s":4,"f":2112500,"p":1.61},{"s":4,"f":2137500,"p":1.58},{"s":4,"f":2162500,"p":1.67},{"s":4,"f":2187500,"p":1.59},{"s":4,"f":2212500,"p":1.62},{"s":4,"f":2237500,"p":1.65},{"s":4,"f":2262500,"p":1.56},{"s":4,"f":2287500,"p":1.63},{"s":4,"f":2312500,"p":1.58},{"s":4,"f":2337500,"p":1.61},{"s":4,"f":2362500,"p":1.64},{"s":4,"f":2387500,"p":1.55},{"s":4,"f":2412500,"p":1.58},{"s":4,"f":2437500,"p":1.62},{"s":4,"f":2462500,"p":1.61},
{"s":3,"f":15000,"p":6.5},{"s":3,"f":20000,"p":4.45},{"s":3,"f":25000,"p":3.75},{"s":3,"f":30000,"p":3.0},{"s":3,"f":37500,"p":2.3},{"s":3,"f":45000,"p":1.9},{"s":3,"f":55000,"p":1.68},{"s":3,"f":65000,"p":1.58},{"s":3,"f":80000,"p":1.47},
{"s":3,"f":100000,"p":1.42},{"s":3,"f":125000,"p":1.33},{"s":3,"f":150000,"p":1.27},{"s":3,"f":175000,"p":1.32},{"s":3,"f":200000,"p":1.25},{"s":3,"f":225000,"p":1.21},{"s":3,"f":250000,"p":1.26},{"s":3,"f":275000,"p":1.21},{"s":3,"f":300000,"p":1.30},{"s":3,"f":325000,"p":1.24},{"s":3,"f":350000,"p":1.20},{"s":3,"f":375000,"p":1.29},{"s":3,"f":400000,"p":1.28},{"s":3,"f":425000,"p":1.27},{"s":3,"f":450000,"p":1.37},{"s":3,"f":465000,"p":1.45},{"s":3,"f":475000,"p":1.48},{"s":3,"f":481000,"p":1.62},{"s":3,"f":500000,"p":1.43},{"s":3,"f":525000,"p":1.35},{"s":3,"f":550000,"p":1.31},{"s":3,"f":575000,"p":1.23},{"s":3,"f":600000,"p":1.27},{"s":3,"f":625000,"p":1.15},{"s":3,"f":650000,"p":1.21},{"s":3,"f":675000,"p":1.26},{"s":3,"f":700000,"p":1.17},{"s":3,"f":725000,"p":1.20},{"s":3,"f":750000,"p":1.16},{"s":3,"f":775000,"p":1.25},{"s":3,"f":800000,"p":1.19},{"s":3,"f":825000,"p":1.22},{"s":3,"f":850000,"p":1.14},{"s":3,"f":875000,"p":1.23},{"s":3,"f":900000,"p":1.20},{"s":3,"f":925000,"p":1.18},{"s":3,"f":950000,"p":1.25},{"s":3,"f":975000,"p":1.17},{"s":3,"f":1000000,"p":1.21},{"s":3,"f":1025000,"p":1.16},{"s":3,"f":1050000,"p":1.24},{"s":3,"f":1075000,"p":1.19},{"s":3,"f":1100000,"p":1.15},{"s":3,"f":1125000,"p":1.22},{"s":3,"f":1150000,"p":1.26},{"s":3,"f":1175000,"p":1.18},{"s":3,"f":1200000,"p":1.20},{"s":3,"f":1225000,"p":1.17},{"s":3,"f":1250000,"p":1.23},{"s":3,"f":1275000,"p":1.14},{"s":3,"f":1300000,"p":1.21},{"s":3,"f":1325000,"p":1.25},{"s":3,"f":1350000,"p":1.20},{"s":3,"f":1375000,"p":1.18},{"s":3,"f":1400000,"p":1.24},{"s":3,"f":1425000,"p":1.22},{"s":3,"f":1450000,"p":1.26},{"s":3,"f":1475000,"p":1.17},{"s":3,"f":1500000,"p":1.23},{"s":3,"f":1525000,"p":1.21},{"s":3,"f":1550000,"p":1.32},{"s":3,"f":1575000,"p":1.28},{"s":3,"f":1590700,"p":1.38},{"s":3,"f":1595900,"p":3.06},{"s":3,"f":1600000,"p":2.35},{"s":3,"f":1606300,"p":2.97},{"s":3,"f":1614100,"p":2.03},{"s":3,"f":1625000,"p":1.77},{"s":3,"f":1650000,"p":1.53},{"s":3,"f":1675000,"p":1.45},{"s":3,"f":1700000,"p":1.32},{"s":3,"f":1725000,"p":1.34},{"s":3,"f":1750000,"p":1.27},{"s":3,"f":1775000,"p":1.30},{"s":3,"f":1800000,"p":1.18},{"s":3,"f":1825000,"p":1.24},{"s":3,"f":1850000,"p":1.25},{"s":3,"f":1875000,"p":1.21},{"s":3,"f":1900000,"p":1.18},{"s":3,"f":1925000,"p":1.27},{"s":3,"f":1950000,"p":1.22},{"s":3,"f":1975000,"p":1.19},{"s":3,"f":2000000,"p":1.24},{"s":3,"f":2025000,"p":1.17},{"s":3,"f":2050000,"p":1.26},{"s":3,"f":2075000,"p":1.23},{"s":3,"f":2100000,"p":1.19},{"s":3,"f":2125000,"p":1.27},{"s":3,"f":2150000,"p":1.18},{"s":3,"f":2175000,"p":1.21},{"s":3,"f":2200000,"p":1.20},{"s":3,"f":2225000,"p":1.24},{"s":3,"f":2250000,"p":1.17},{"s":3,"f":2275000,"p":1.23},{"s":3,"f":2300000,"p":1.26},{"s":3,"f":2325000,"p":1.19},{"s":3,"f":2350000,"p":1.13},{"s":3,"f":2375000,"p":1.20},{"s":3,"f":2400000,"p":1.22},{"s":3,"f":2425000,"p":1.16},{"s":3,"f":2450000,"p":1.23},{"s":3,"f":2475000,"p":1.19},
{"s":3,"f":112500,"p":1.40},{"s":3,"f":137500,"p":1.26},{"s":3,"f":162500,"p":1.30},{"s":3,"f":187500,"p":1.24},{"s":3,"f":212500,"p":1.26},{"s":3,"f":237500,"p":1.30},{"s":3,"f":262500,"p":1.20},{"s":3,"f":287500,"p":1.23},{"s":3,"f":312500,"p":1.27},{"s":3,"f":337500,"p":1.26},{"s":3,"f":362500,"p":1.20},{"s":3,"f":387500,"p":1.31},{"s":3,"f":412500,"p":1.26},{"s":3,"f":437500,"p":1.32},{"s":3,"f":487500,"p":1.56},{"s":3,"f":512500,"p":1.38},{"s":3,"f":537500,"p":1.34},{"s":3,"f":562500,"p":1.22},{"s":3,"f":587500,"p":1.22},{"s":3,"f":612500,"p":1.24},{"s":3,"f":637500,"p":1.17},{"s":3,"f":662500,"p":1.26},{"s":3,"f":687500,"p":1.19},{"s":3,"f":712500,"p":1.21},{"s":3,"f":737500,"p":1.15},{"s":3,"f":762500,"p":1.24},{"s":3,"f":787500,"p":1.20},{"s":3,"f":812500,"p":1.22},{"s":3,"f":837500,"p":1.16},{"s":3,"f":862500,"p":1.18},{"s":3,"f":887500,"p":1.25},{"s":3,"f":912500,"p":1.21},{"s":3,"f":937500,"p":1.14},{"s":3,"f":962500,"p":1.23},{"s":3,"f":987500,"p":1.17},{"s":3,"f":1012500,"p":1.20},{"s":3,"f":1037500,"p":1.18},{"s":3,"f":1062500,"p":1.26},{"s":3,"f":1087500,"p":1.22},{"s":3,"f":1112500,"p":1.15},{"s":3,"f":1137500,"p":1.19},{"s":3,"f":1162500,"p":1.24},{"s":3,"f":1187500,"p":1.16},{"s":3,"f":1212500,"p":1.21},{"s":3,"f":1237500,"p":1.17},{"s":3,"f":1262500,"p":1.25},{"s":3,"f":1287500,"p":1.18},{"s":3,"f":1312500,"p":1.20},{"s":3,"f":1337500,"p":1.23},{"s":3,"f":1362500,"p":1.16},{"s":3,"f":1387500,"p":1.24},{"s":3,"f":1412500,"p":1.21},{"s":3,"f":1437500,"p":1.27},{"s":3,"f":1462500,"p":1.18},{"s":3,"f":1487500,"p":1.22},{"s":3,"f":1512500,"p":1.19},{"s":3,"f":1537500,"p":1.30},{"s":3,"f":1562500,"p":1.30},{"s":3,"f":1587500,"p":1.33},{"s":3,"f":1637500,"p":1.62},{"s":3,"f":1662500,"p":1.52},{"s":3,"f":1687500,"p":1.40},{"s":3,"f":1712500,"p":1.35},{"s":3,"f":1737500,"p":1.27},{"s":3,"f":1762500,"p":1.32},{"s":3,"f":1787500,"p":1.23},{"s":3,"f":1812500,"p":1.24},{"s":3,"f":1837500,"p":1.25},{"s":3,"f":1862500,"p":1.17},{"s":3,"f":1887500,"p":1.22},{"s":3,"f":1912500,"p":1.28},{"s":3,"f":1937500,"p":1.19},{"s":3,"f":1962500,"p":1.24},{"s":3,"f":1987500,"p":1.18},{"s":3,"f":2012500,"p":1.21},{"s":3,"f":2037500,"p":1.27},{"s":3,"f":2062500,"p":1.20},{"s":3,"f":2087500,"p":1.22},{"s":3,"f":2112500,"p":1.25},{"s":3,"f":2137500,"p":1.18},{"s":3,"f":2162500,"p":1.24},{"s":3,"f":2187500,"p":1.22},{"s":3,"f":2212500,"p":1.15},{"s":3,"f":2237500,"p":1.19},{"s":3,"f":2262500,"p":1.26},{"s":3,"f":2287500,"p":1.23},{"s":3,"f":2312500,"p":1.17},{"s":3,"f":2337500,"p":1.24},{"s":3,"f":2362500,"p":1.18},{"s":3,"f":2387500,"p":1.19},{"s":3,"f":2412500,"p":1.16},{"s":3,"f":2437500,"p":1.25},{"s":3,"f":2462500,"p":1.17},
{"s":2,"f":15000,"p":6.5},{"s":2,"f":20000,"p":4.18},{"s":2,"f":25000,"p":3.48},{"s":2,"f":30000,"p":2.68},{"s":2,"f":37500,"p":1.93},{"s":2,"f":45000,"p":1.54},{"s":2,"f":55000,"p":1.32},{"s":2,"f":65000,"p":1.2},{"s":2,"f":80000,"p":1.09},
{"s":2,"f":100000,"p":1.02},{"s":2,"f":125000,"p":0.90},{"s":2,"f":150000,"p":0.94},{"s":2,"f":175000,"p":0.88},{"s":2,"f":200000,"p":0.84},{"s":2,"f":225000,"p":0.82},{"s":2,"f":250000,"p":0.86},{"s":2,"f":275000,"p":0.80},{"s":2,"f":300000,"p":0.89},{"s":2,"f":325000,"p":0.83},{"s":2,"f":350000,"p":0.79},{"s":2,"f":375000,"p":0.89},{"s":2,"f":400000,"p":0.87},{"s":2,"f":425000,"p":0.92},{"s":2,"f":450000,"p":0.85},{"s":2,"f":475000,"p":0.94},{"s":2,"f":482000,"p":1.00},{"s":2,"f":490000,"p":1.12},{"s":2,"f":500000,"p":1.00},{"s":2,"f":510000,"p":1.03},{"s":2,"f":525000,"p":0.96},{"s":2,"f":550000,"p":0.85},{"s":2,"f":575000,"p":0.83},{"s":2,"f":600000,"p":0.82},{"s":2,"f":625000,"p":0.74},{"s":2,"f":650000,"p":0.82},{"s":2,"f":675000,"p":0.78},{"s":2,"f":700000,"p":0.83},{"s":2,"f":725000,"p":0.75},{"s":2,"f":750000,"p":0.80},{"s":2,"f":775000,"p":0.84},{"s":2,"f":800000,"p":0.77},{"s":2,"f":825000,"p":0.73},{"s":2,"f":850000,"p":0.81},{"s":2,"f":875000,"p":0.79},{"s":2,"f":900000,"p":0.82},{"s":2,"f":925000,"p":0.76},{"s":2,"f":950000,"p":0.85},{"s":2,"f":975000,"p":0.78},{"s":2,"f":1000000,"p":0.74},{"s":2,"f":1025000,"p":0.81},{"s":2,"f":1050000,"p":0.83},{"s":2,"f":1075000,"p":0.77},{"s":2,"f":1100000,"p":0.79},{"s":2,"f":1125000,"p":0.75},{"s":2,"f":1150000,"p":0.84},{"s":2,"f":1175000,"p":0.78},{"s":2,"f":1200000,"p":0.80},{"s":2,"f":1225000,"p":0.73},{"s":2,"f":1250000,"p":0.82},{"s":2,"f":1275000,"p":0.77},{"s":2,"f":1300000,"p":0.81},{"s":2,"f":1325000,"p":0.84},{"s":2,"f":1350000,"p":0.76},{"s":2,"f":1375000,"p":0.79},{"s":2,"f":1400000,"p":0.74},{"s":2,"f":1425000,"p":0.83},{"s":2,"f":1450000,"p":0.78},{"s":2,"f":1475000,"p":0.81},{"s":2,"f":1500000,"p":0.75},{"s":2,"f":1525000,"p":0.85},{"s":2,"f":1550000,"p":0.80},{"s":2,"f":1575000,"p":0.90},{"s":2,"f":1600000,"p":0.81},{"s":2,"f":1612000,"p":0.92},{"s":2,"f":1618000,"p":1.15},{"s":2,"f":1625000,"p":1.72},{"s":2,"f":1632000,"p":2.08},{"s":2,"f":1639000,"p":1.80},{"s":2,"f":1650000,"p":1.40},{"s":2,"f":1675000,"p":1.20},{"s":2,"f":1700000,"p":1.09},{"s":2,"f":1725000,"p":0.96},{"s":2,"f":1750000,"p":0.99},{"s":2,"f":1775000,"p":0.85},{"s":2,"f":1800000,"p":0.86},{"s":2,"f":1825000,"p":0.88},{"s":2,"f":1850000,"p":0.79},{"s":2,"f":1875000,"p":0.87},{"s":2,"f":1900000,"p":0.84},{"s":2,"f":1925000,"p":0.85},{"s":2,"f":1950000,"p":0.81},{"s":2,"f":1975000,"p":0.88},{"s":2,"f":2000000,"p":0.82},{"s":2,"f":2025000,"p":0.79},{"s":2,"f":2050000,"p":0.86},{"s":2,"f":2075000,"p":0.90},{"s":2,"f":2100000,"p":0.82},{"s":2,"f":2125000,"p":0.80},{"s":2,"f":2150000,"p":0.86},{"s":2,"f":2175000,"p":0.79},{"s":2,"f":2200000,"p":0.83},{"s":2,"f":2225000,"p":0.85},{"s":2,"f":2250000,"p":0.78},{"s":2,"f":2275000,"p":0.84},{"s":2,"f":2300000,"p":0.87},{"s":2,"f":2325000,"p":0.81},{"s":2,"f":2350000,"p":0.84},{"s":2,"f":2375000,"p":0.75},{"s":2,"f":2400000,"p":0.81},{"s":2,"f":2425000,"p":0.86},{"s":2,"f":2450000,"p":0.78},{"s":2,"f":2475000,"p":0.80},
{"s":2,"f":112500,"p":0.95},{"s":2,"f":137500,"p":0.97},{"s":2,"f":162500,"p":0.91},{"s":2,"f":187500,"p":0.83},{"s":2,"f":212500,"p":0.89},{"s":2,"f":237500,"p":0.84},{"s":2,"f":262500,"p":0.84},{"s":2,"f":287500,"p":0.81},{"s":2,"f":312500,"p":0.90},{"s":2,"f":337500,"p":0.82},{"s":2,"f":362500,"p":0.86},{"s":2,"f":387500,"p":0.91},{"s":2,"f":412500,"p":0.83},{"s":2,"f":437500,"p":0.91},{"s":2,"f":462500,"p":0.89},{"s":2,"f":487500,"p":1.08},{"s":2,"f":537500,"p":0.86},{"s":2,"f":562500,"p":0.85},{"s":2,"f":587500,"p":0.85},{"s":2,"f":612500,"p":0.82},{"s":2,"f":637500,"p":0.73},{"s":2,"f":662500,"p":0.83},{"s":2,"f":687500,"p":0.77},{"s":2,"f":712500,"p":0.80},{"s":2,"f":737500,"p":0.75},{"s":2,"f":762500,"p":0.84},{"s":2,"f":787500,"p":0.79},{"s":2,"f":812500,"p":0.82},{"s":2,"f":837500,"p":0.74},{"s":2,"f":862500,"p":0.77},{"s":2,"f":887500,"p":0.81},{"s":2,"f":912500,"p":0.76},{"s":2,"f":937500,"p":0.85},{"s":2,"f":962500,"p":0.78},{"s":2,"f":987500,"p":0.80},{"s":2,"f":1012500,"p":0.74},{"s":2,"f":1037500,"p":0.83},{"s":2,"f":1062500,"p":0.79},{"s":2,"f":1087500,"p":0.81},{"s":2,"f":1112500,"p":0.75},{"s":2,"f":1137500,"p":0.77},{"s":2,"f":1162500,"p":0.84},{"s":2,"f":1187500,"p":0.80},{"s":2,"f":1212500,"p":0.73},{"s":2,"f":1237500,"p":0.82},{"s":2,"f":1262500,"p":0.76},{"s":2,"f":1287500,"p":0.79},{"s":2,"f":1312500,"p":0.77},{"s":2,"f":1337500,"p":0.85},{"s":2,"f":1362500,"p":0.81},{"s":2,"f":1387500,"p":0.74},{"s":2,"f":1412500,"p":0.78},{"s":2,"f":1437500,"p":0.83},{"s":2,"f":1462500,"p":0.75},{"s":2,"f":1487500,"p":0.80},{"s":2,"f":1512500,"p":0.76},{"s":2,"f":1537500,"p":0.84},{"s":2,"f":1562500,"p":0.85},{"s":2,"f":1587500,"p":0.86},{"s":2,"f":1662500,"p":1.32},{"s":2,"f":1687500,"p":1.12},{"s":2,"f":1712500,"p":1.07},{"s":2,"f":1737500,"p":0.92},{"s":2,"f":1762500,"p":0.92},{"s":2,"f":1787500,"p":0.85},{"s":2,"f":1812500,"p":0.93},{"s":2,"f":1837500,"p":0.87},{"s":2,"f":1862500,"p":0.80},{"s":2,"f":1887500,"p":0.88},{"s":2,"f":1912500,"p":0.82},{"s":2,"f":1937500,"p":0.87},{"s":2,"f":1962500,"p":0.86},{"s":2,"f":1987500,"p":0.84},{"s":2,"f":2012500,"p":0.80},{"s":2,"f":2037500,"p":0.88},{"s":2,"f":2062500,"p":0.82},{"s":2,"f":2087500,"p":0.85},{"s":2,"f":2112500,"p":0.86},{"s":2,"f":2137500,"p":0.78},{"s":2,"f":2162500,"p":0.83},{"s":2,"f":2187500,"p":0.89},{"s":2,"f":2212500,"p":0.80},{"s":2,"f":2237500,"p":0.85},{"s":2,"f":2262500,"p":0.79},{"s":2,"f":2287500,"p":0.82},{"s":2,"f":2312500,"p":0.88},{"s":2,"f":2337500,"p":0.81},{"s":2,"f":2362500,"p":0.81},{"s":2,"f":2387500,"p":0.85},{"s":2,"f":2412500,"p":0.78},{"s":2,"f":2437500,"p":0.84},{"s":2,"f":2462500,"p":0.82},
{"s":1,"f":15000,"p":6.5},{"s":1,"f":20000,"p":3.88},{"s":1,"f":25000,"p":3.08},{"s":1,"f":30000,"p":2.33},{"s":1,"f":37500,"p":1.56},{"s":1,"f":45000,"p":1.18},{"s":1,"f":55000,"p":0.95},{"s":1,"f":65000,"p":0.83},{"s":1,"f":80000,"p":0.71},
{"s":1,"f":100000,"p":0.64},{"s":1,"f":125000,"p":0.48},{"s":1,"f":150000,"p":0.49},{"s":1,"f":175000,"p":0.44},{"s":1,"f":200000,"p":0.51},{"s":1,"f":225000,"p":0.41},{"s":1,"f":250000,"p":0.43},{"s":1,"f":275000,"p":0.45},{"s":1,"f":300000,"p":0.38},{"s":1,"f":325000,"p":0.46},{"s":1,"f":350000,"p":0.42},{"s":1,"f":375000,"p":0.47},{"s":1,"f":400000,"p":0.39},{"s":1,"f":425000,"p":0.44},{"s":1,"f":450000,"p":0.51},{"s":1,"f":475000,"p":0.54},{"s":1,"f":485000,"p":0.66},{"s":1,"f":497000,"p":0.79},{"s":1,"f":500000,"p":0.74},{"s":1,"f":510000,"p":0.67},{"s":1,"f":525000,"p":0.58},{"s":1,"f":550000,"p":0.48},{"s":1,"f":575000,"p":0.46},{"s":1,"f":600000,"p":0.38},{"s":1,"f":625000,"p":0.46},{"s":1,"f":650000,"p":0.39},{"s":1,"f":675000,"p":0.35},{"s":1,"f":700000,"p":0.42},{"s":1,"f":725000,"p":0.44},{"s":1,"f":750000,"p":0.38},{"s":1,"f":775000,"p":0.40},{"s":1,"f":800000,"p":0.36},{"s":1,"f":825000,"p":0.45},{"s":1,"f":850000,"p":0.39},{"s":1,"f":875000,"p":0.41},{"s":1,"f":900000,"p":0.34},{"s":1,"f":925000,"p":0.43},{"s":1,"f":950000,"p":0.38},{"s":1,"f":975000,"p":0.42},{"s":1,"f":1000000,"p":0.45},{"s":1,"f":1025000,"p":0.37},{"s":1,"f":1050000,"p":0.40},{"s":1,"f":1075000,"p":0.35},{"s":1,"f":1100000,"p":0.44},{"s":1,"f":1125000,"p":0.39},{"s":1,"f":1150000,"p":0.42},{"s":1,"f":1175000,"p":0.36},{"s":1,"f":1200000,"p":0.46},{"s":1,"f":1225000,"p":0.38},{"s":1,"f":1250000,"p":0.37},{"s":1,"f":1275000,"p":0.41},{"s":1,"f":1300000,"p":0.44},{"s":1,"f":1325000,"p":0.35},{"s":1,"f":1350000,"p":0.40},{"s":1,"f":1375000,"p":0.43},{"s":1,"f":1400000,"p":0.38},{"s":1,"f":1425000,"p":0.45},{"s":1,"f":1450000,"p":0.36},{"s":1,"f":1475000,"p":0.39},{"s":1,"f":1500000,"p":0.42},{"s":1,"f":1525000,"p":0.34},{"s":1,"f":1550000,"p":0.43},{"s":1,"f":1575000,"p":0.42},{"s":1,"f":1600000,"p":0.57},{"s":1,"f":1625000,"p":0.41},{"s":1,"f":1650000,"p":0.62},{"s":1,"f":1657000,"p":0.80},{"s":1,"f":1664000,"p":1.04},{"s":1,"f":1675000,"p":0.94},{"s":1,"f":1685000,"p":0.82},{"s":1,"f":1700000,"p":0.66},{"s":1,"f":1725000,"p":0.64},{"s":1,"f":1750000,"p":0.62},{"s":1,"f":1775000,"p":0.51},{"s":1,"f":1800000,"p":0.46},{"s":1,"f":1825000,"p":0.50},{"s":1,"f":1850000,"p":0.41},{"s":1,"f":1875000,"p":0.45},{"s":1,"f":1900000,"p":0.47},{"s":1,"f":1925000,"p":0.40},{"s":1,"f":1950000,"p":0.46},{"s":1,"f":1975000,"p":0.48},{"s":1,"f":2000000,"p":0.42},{"s":1,"f":2025000,"p":0.47},{"s":1,"f":2050000,"p":0.38},{"s":1,"f":2075000,"p":0.44},{"s":1,"f":2100000,"p":0.49},{"s":1,"f":2125000,"p":0.41},{"s":1,"f":2150000,"p":0.43},{"s":1,"f":2175000,"p":0.45},{"s":1,"f":2200000,"p":0.39},{"s":1,"f":2225000,"p":0.47},{"s":1,"f":2250000,"p":0.41},{"s":1,"f":2275000,"p":0.39},{"s":1,"f":2300000,"p":0.38},{"s":1,"f":2325000,"p":0.43},{"s":1,"f":2350000,"p":0.37},{"s":1,"f":2375000,"p":0.46},{"s":1,"f":2400000,"p":0.40},{"s":1,"f":2425000,"p":0.35},{"s":1,"f":2450000,"p":0.44},{"s":1,"f":2475000,"p":0.41},
{"s":1,"f":112500,"p":0.59},{"s":1,"f":137500,"p":0.47},{"s":1,"f":162500,"p":0.46},{"s":1,"f":187500,"p":0.51},{"s":1,"f":212500,"p":0.43},{"s":1,"f":237500,"p":0.44},{"s":1,"f":262500,"p":0.47},{"s":1,"f":287500,"p":0.40},{"s":1,"f":312500,"p":0.46},{"s":1,"f":337500,"p":0.44},{"s":1,"f":362500,"p":0.37},{"s":1,"f":387500,"p":0.41},{"s":1,"f":412500,"p":0.48},{"s":1,"f":437500,"p":0.47},{"s":1,"f":462500,"p":0.47},{"s":1,"f":537500,"p":0.52},{"s":1,"f":562500,"p":0.43},{"s":1,"f":587500,"p":0.48},{"s":1,"f":612500,"p":0.39},{"s":1,"f":637500,"p":0.41},{"s":1,"f":662500,"p":0.44},{"s":1,"f":687500,"p":0.35},{"s":1,"f":712500,"p":0.42},{"s":1,"f":737500,"p":0.37},{"s":1,"f":762500,"p":0.40},{"s":1,"f":787500,"p":0.45},{"s":1,"f":812500,"p":0.36},{"s":1,"f":837500,"p":0.39},{"s":1,"f":862500,"p":0.43},{"s":1,"f":887500,"p":0.42},{"s":1,"f":912500,"p":0.34},{"s":1,"f":937500,"p":0.44},{"s":1,"f":962500,"p":0.38},{"s":1,"f":987500,"p":0.41},{"s":1,"f":1012500,"p":0.36},{"s":1,"f":1037500,"p":0.45},{"s":1,"f":1062500,"p":0.40},{"s":1,"f":1087500,"p":0.43},{"s":1,"f":1112500,"p":0.35},{"s":1,"f":1137500,"p":0.38},{"s":1,"f":1162500,"p":0.42},{"s":1,"f":1187500,"p":0.37},{"s":1,"f":1212500,"p":0.46},{"s":1,"f":1237500,"p":0.39},{"s":1,"f":1262500,"p":0.41},{"s":1,"f":1287500,"p":0.35},{"s":1,"f":1312500,"p":0.44},{"s":1,"f":1337500,"p":0.40},{"s":1,"f":1362500,"p":0.42},{"s":1,"f":1387500,"p":0.36},{"s":1,"f":1412500,"p":0.38},{"s":1,"f":1437500,"p":0.45},{"s":1,"f":1462500,"p":0.41},{"s":1,"f":1487500,"p":0.34},{"s":1,"f":1512500,"p":0.43},{"s":1,"f":1537500,"p":0.37},{"s":1,"f":1562500,"p":0.41},{"s":1,"f":1587500,"p":0.47},{"s":1,"f":1612500,"p":0.56},{"s":1,"f":1637500,"p":0.55},{"s":1,"f":1712500,"p":0.70},{"s":1,"f":1737500,"p":0.55},{"s":1,"f":1762500,"p":0.55},{"s":1,"f":1787500,"p":0.48},{"s":1,"f":1812500,"p":0.53},{"s":1,"f":1837500,"p":0.44},{"s":1,"f":1862500,"p":0.44},{"s":1,"f":1887500,"p":0.47},{"s":1,"f":1912500,"p":0.38},{"s":1,"f":1937500,"p":0.46},{"s":1,"f":1962500,"p":0.43},{"s":1,"f":1987500,"p":0.49},{"s":1,"f":2012500,"p":0.40},{"s":1,"f":2037500,"p":0.44},{"s":1,"f":2062500,"p":0.41},{"s":1,"f":2087500,"p":0.50},{"s":1,"f":2112500,"p":0.45},{"s":1,"f":2137500,"p":0.39},{"s":1,"f":2162500,"p":0.48},{"s":1,"f":2187500,"p":0.42},{"s":1,"f":2212500,"p":0.47},{"s":1,"f":2237500,"p":0.46},{"s":1,"f":2262500,"p":0.41},{"s":1,"f":2287500,"p":0.37},{"s":1,"f":2312500,"p":0.45},{"s":1,"f":2337500,"p":0.39},{"s":1,"f":2362500,"p":0.42},{"s":1,"f":2387500,"p":0.44},{"s":1,"f":2412500,"p":0.36},{"s":1,"f":2437500,"p":0.41},{"s":1,"f":2462500,"p":0.47},
{"s":0,"f":15000,"p":6.5},{"s":0,"f":20000,"p":3.55},{"s":0,"f":25000,"p":2.75},{"s":0,"f":30000,"p":1.95},{"s":0,"f":37500,"p":1.15},{"s":0,"f":45000,"p":0.77},{"s":0,"f":55000,"p":0.55},{"s":0,"f":65000,"p":0.42},{"s":0,"f":80000,"p":0.30},
{"s":0,"f":100000,"p":0.11},{"s":0,"f":125000,"p":0.10},{"s":0,"f":150000,"p":0.05},{"s":0,"f":175000,"p":0.08},{"s":0,"f":200000,"p":-0.01},{"s":0,"f":225000,"p":0.05},{"s":0,"f":250000,"p":0.03},{"s":0,"f":275000,"p":0.10},{"s":0,"f":300000,"p":0.01},{"s":0,"f":325000,"p":0.06},{"s":0,"f":350000,"p":0.02},{"s":0,"f":375000,"p":-0.01},{"s":0,"f":400000,"p":0.07},{"s":0,"f":425000,"p":0.04},{"s":0,"f":450000,"p":0.12},{"s":0,"f":462000,"p":0.18},{"s":0,"f":475000,"p":0.19},{"s":0,"f":485000,"p":0.20},{"s":0,"f":500000,"p":0.28},{"s":0,"f":505000,"p":0.33},{"s":0,"f":515000,"p":0.22},{"s":0,"f":525000,"p":0.11},{"s":0,"f":550000,"p":0.09},{"s":0,"f":575000,"p":-0.05},{"s":0,"f":600000,"p":-0.01},{"s":0,"f":625000,"p":0.00},{"s":0,"f":650000,"p":-0.04},{"s":0,"f":675000,"p":-0.07},{"s":0,"f":700000,"p":0.02},{"s":0,"f":725000,"p":-0.03},{"s":0,"f":750000,"p":-0.06},{"s":0,"f":775000,"p":-0.01},{"s":0,"f":800000,"p":-0.08},{"s":0,"f":825000,"p":0.01},{"s":0,"f":850000,"p":-0.02},{"s":0,"f":875000,"p":-0.05},{"s":0,"f":900000,"p":0.03},{"s":0,"f":925000,"p":-0.06},{"s":0,"f":950000,"p":-0.03},{"s":0,"f":975000,"p":-0.04},{"s":0,"f":1000000,"p":0.00},{"s":0,"f":1025000,"p":-0.07},{"s":0,"f":1050000,"p":-0.01},{"s":0,"f":1075000,"p":0.02},{"s":0,"f":1100000,"p":-0.05},{"s":0,"f":1125000,"p":-0.09},{"s":0,"f":1150000,"p":-0.02},{"s":0,"f":1175000,"p":0.00},{"s":0,"f":1200000,"p":-0.06},{"s":0,"f":1225000,"p":0.01},{"s":0,"f":1250000,"p":-0.03},{"s":0,"f":1275000,"p":-0.05},{"s":0,"f":1300000,"p":0.02},{"s":0,"f":1325000,"p":-0.04},{"s":0,"f":1350000,"p":-0.07},{"s":0,"f":1375000,"p":-0.01},{"s":0,"f":1400000,"p":-0.06},{"s":0,"f":1425000,"p":0.03},{"s":0,"f":1450000,"p":-0.03},{"s":0,"f":1475000,"p":-0.08},{"s":0,"f":1500000,"p":0.00},{"s":0,"f":1525000,"p":-0.02},{"s":0,"f":1550000,"p":-0.05},{"s":0,"f":1575000,"p":0.04},{"s":0,"f":1600000,"p":-0.01},{"s":0,"f":1625000,"p":0.07},{"s":0,"f":1650000,"p":0.14},{"s":0,"f":1675000,"p":0.17},{"s":0,"f":1700000,"p":0.16},{"s":0,"f":1707000,"p":0.37},{"s":0,"f":1713000,"p":0.46},{"s":0,"f":1720000,"p":0.37},{"s":0,"f":1725000,"p":0.35},{"s":0,"f":1750000,"p":0.22},{"s":0,"f":1775000,"p":0.22},{"s":0,"f":1800000,"p":0.22},{"s":0,"f":1825000,"p":0.09},{"s":0,"f":1850000,"p":0.09},{"s":0,"f":1875000,"p":0.03},{"s":0,"f":1900000,"p":0.10},{"s":0,"f":1925000,"p":0.04},{"s":0,"f":1950000,"p":0.07},{"s":0,"f":1975000,"p":-0.01},{"s":0,"f":2000000,"p":0.08},{"s":0,"f":2025000,"p":0.05},{"s":0,"f":2050000,"p":0.03},{"s":0,"f":2075000,"p":0.10},{"s":0,"f":2100000,"p":0.02},{"s":0,"f":2125000,"p":0.04},{"s":0,"f":2150000,"p":-0.01},{"s":0,"f":2175000,"p":0.07},{"s":0,"f":2200000,"p":0.02},{"s":0,"f":2225000,"p":-0.02},{"s":0,"f":2250000,"p":0.05},{"s":0,"f":2275000,"p":0.09},{"s":0,"f":2300000,"p":0.01},{"s":0,"f":2325000,"p":0.03},{"s":0,"f":2350000,"p":0.00},{"s":0,"f":2375000,"p":0.03},{"s":0,"f":2400000,"p":-0.06},{"s":0,"f":2425000,"p":0.01},{"s":0,"f":2450000,"p":0.05},{"s":0,"f":2475000,"p":-0.02},
{"s":0,"f":112500,"p":0.13},{"s":0,"f":137500,"p":0.07},{"s":0,"f":162500,"p":0.00},{"s":0,"f":187500,"p":0.08},{"s":0,"f":212500,"p":0.02},{"s":0,"f":237500,"p":0.05},{"s":0,"f":262500,"p":0.07},{"s":0,"f":287500,"p":-0.01},{"s":0,"f":312500,"p":0.04},{"s":0,"f":337500,"p":0.10},{"s":0,"f":362500,"p":0.01},{"s":0,"f":387500,"p":0.06},{"s":0,"f":412500,"p":0.00},{"s":0,"f":437500,"p":0.05},{"s":0,"f":537500,"p":0.13},{"s":0,"f":562500,"p":0.00},{"s":0,"f":587500,"p":0.03},{"s":0,"f":612500,"p":-0.02},{"s":0,"f":637500,"p":-0.09},{"s":0,"f":662500,"p":-0.05},{"s":0,"f":687500,"p":0.02},{"s":0,"f":712500,"p":-0.01},{"s":0,"f":737500,"p":-0.07},{"s":0,"f":762500,"p":0.00},{"s":0,"f":787500,"p":-0.04},{"s":0,"f":812500,"p":-0.03},{"s":0,"f":837500,"p":-0.06},{"s":0,"f":862500,"p":0.03},{"s":0,"f":887500,"p":-0.05},{"s":0,"f":912500,"p":-0.02},{"s":0,"f":937500,"p":0.01},{"s":0,"f":962500,"p":-0.08},{"s":0,"f":987500,"p":-0.01},{"s":0,"f":1012500,"p":-0.06},{"s":0,"f":1037500,"p":-0.03},{"s":0,"f":1062500,"p":0.02},{"s":0,"f":1087500,"p":-0.07},{"s":0,"f":1112500,"p":-0.04},{"s":0,"f":1137500,"p":0.00},{"s":0,"f":1162500,"p":-0.01},{"s":0,"f":1187500,"p":-0.09},{"s":0,"f":1212500,"p":0.01},{"s":0,"f":1237500,"p":-0.05},{"s":0,"f":1262500,"p":-0.02},{"s":0,"f":1287500,"p":-0.07},{"s":0,"f":1312500,"p":0.02},{"s":0,"f":1337500,"p":-0.03},{"s":0,"f":1362500,"p":0.00},{"s":0,"f":1387500,"p":-0.08},{"s":0,"f":1412500,"p":-0.05},{"s":0,"f":1437500,"p":-0.01},{"s":0,"f":1462500,"p":-0.06},{"s":0,"f":1487500,"p":0.03},{"s":0,"f":1512500,"p":-0.04},{"s":0,"f":1537500,"p":-0.02},{"s":0,"f":1562500,"p":-0.07},{"s":0,"f":1587500,"p":0.06},{"s":0,"f":1612500,"p":0.05},{"s":0,"f":1637500,"p":0.12},{"s":0,"f":1662500,"p":0.09},{"s":0,"f":1687500,"p":0.14},{"s":0,"f":1737500,"p":0.31},{"s":0,"f":1762500,"p":0.18},{"s":0,"f":1787500,"p":0.22},{"s":0,"f":1812500,"p":0.11},{"s":0,"f":1837500,"p":0.11},{"s":0,"f":1862500,"p":0.06},{"s":0,"f":1887500,"p":0.12},{"s":0,"f":1912500,"p":0.07},{"s":0,"f":1937500,"p":0.00},{"s":0,"f":1962500,"p":0.04},{"s":0,"f":1987500,"p":0.09},{"s":0,"f":2012500,"p":0.01},{"s":0,"f":2037500,"p":0.06},{"s":0,"f":2062500,"p":0.02},{"s":0,"f":2087500,"p":0.10},{"s":0,"f":2112500,"p":0.03},{"s":0,"f":2137500,"p":0.03},{"s":0,"f":2162500,"p":0.06},{"s":0,"f":2187500,"p":-0.03},{"s":0,"f":2212500,"p":0.05},{"s":0,"f":2237500,"p":0.02},{"s":0,"f":2262500,"p":0.08},{"s":0,"f":2287500,"p":-0.01},{"s":0,"f":2312500,"p":0.03},{"s":0,"f":2337500,"p":0.00},{"s":0,"f":2362500,"p":0.09},{"s":0,"f":2387500,"p":0.01},{"s":0,"f":2412500,"p":-0.05},{"s":0,"f":2437500,"p":0.04},{"s":0,"f":2462500,"p":-0.02}
],
"arrows": [
{"f":1000000,"p":3.91,"p2":1.07},
{"f":2000000,"p":1.03,"p2":3.89}
],
"heads": [
{"f":1000000,"p":1.07,"sh":"M-0.4,-0.8L0,0L0.4,-0.8"},
{"f":2000000,"p":3.89,"sh":"M-0.4,0.8L0,0L0.4,0.8"}
],
"notes": [
{"f":500000,"p":5.55,"t":"Dec 23, 2005, Evening, 217 +/- 34 km"},
{"f":1000000,"p":4.0,"t":"Ne"},
{"f":2000000,"p":4.0,"t":"Local Time"},
{"f":500000,"p":-0.43,"t":"Gyro line"},
{"f":1750000,"p":-0.5,"t":"Plasma line"}
],
"offset": [
{"f":17500,"p":6.11,"t":"1e11"}
]
},
"layer": [
{
"data": {"name": "spec"},
"mark": {"type": "line", "strokeWidth": 1.6, "clip": true},
"encoding": {
"x": {"field": "f", "type": "quantitative",
"scale": {"domain": [15000, 2472500], "nice": false, "zero": false},
"axis": {"orient": "bottom", "values": [500000, 1000000, 1500000, 2000000], "format": "d", "grid": false,
"tickSize": -9, "tickColor": "black", "tickWidth": 1.2, "domainColor": "black", "domainWidth": 1.5,
"labelFont": "DejaVu Sans Condensed", "labelFontSize": 28, "labelColor": "black", "labelPadding": 21,
"title": "Frequency (Hz)", "titleFont": "DejaVu Sans Condensed", "titleFontSize": 28, "titleFontWeight": "normal",
"titleColor": "black", "titleY": 55, "titleBaseline": "middle"}},
"y": {"field": "p", "type": "quantitative",
"scale": {"domain": [-1.79, 6.03], "nice": false, "zero": false},
"axis": {"orient": "left", "values": [-1, 0, 1, 2, 3, 4, 5, 6], "grid": false,
"tickSize": -9, "tickColor": "black", "tickWidth": 1.2, "domainColor": "black", "domainWidth": 1.5,
"labelFont": "DejaVu Sans Condensed", "labelFontSize": 28, "labelColor": "black", "labelPadding": 16,
"title": "Uncalibrated Power (arbitrary)", "titleFont": "DejaVu Sans", "titleFontSize": 28, "titleFontWeight": "normal",
"titleColor": "black", "titleX": -61, "titleBaseline": "middle", "titleAngle": 270}},
"color": {"field": "s", "type": "nominal",
"scale": {"domain": [0, 1, 2, 3, 4, 5, 6, 7, 8, 9], "range": ["#0000ff", "#008000", "#ff0000", "#00bfbf", "#bf00bf", "#bfbf00", "#000000", "#0000ff", "#008000", "#ff0000"]},
"legend": null}
}
},
{
"data": {"name": "arrows"},
"mark": {"type": "rule", "strokeWidth": 1.8, "color": "black"},
"encoding": {
"x": {"field": "f", "type": "quantitative",
"scale": {"domain": [15000, 2472500], "nice": false, "zero": false},
"axis": {"orient": "top", "values": [500000, 1000000, 1500000, 2000000], "labels": false, "grid": false,
"tickSize": -9, "tickColor": "black", "tickWidth": 1.2, "domainColor": "black", "domainWidth": 1.5, "title": null}},
"y": {"field": "p", "type": "quantitative",
"scale": {"domain": [-1.79, 6.03], "nice": false, "zero": false},
"axis": {"orient": "right", "values": [-1, 0, 1, 2, 3, 4, 5, 6], "labels": false, "grid": false,
"tickSize": -9, "tickColor": "black", "tickWidth": 1.2, "domain": false, "title": null}},
"y2": {"field": "p2"}
}
},
{
"data": {"name": "heads"},
"mark": {"type": "point", "filled": false, "size": 400, "strokeWidth": 1.8, "color": "black", "opacity": 1},
"encoding": {
"x": {"field": "f", "type": "quantitative", "scale": {"domain": [15000, 2472500], "nice": false, "zero": false}, "axis": null},
"y": {"field": "p", "type": "quantitative", "scale": {"domain": [-1.79, 6.03], "nice": false, "zero": false}, "axis": null},
"shape": {"field": "sh", "type": "nominal", "scale": null}
}
},
{
"data": {"name": "notes"},
"mark": {"type": "text", "align": "left", "baseline": "alphabetic", "font": "DejaVu Sans Condensed", "fontSize": 28, "color": "black"},
"encoding": {
"x": {"field": "f", "type": "quantitative", "scale": {"domain": [15000, 2472500], "nice": false, "zero": false}, "axis": null},
"y": {"field": "p", "type": "quantitative", "scale": {"domain": [-1.79, 6.03], "nice": false, "zero": false}, "axis": null},
"text": {"field": "t"}
}
},
{
"data": {"name": "offset"},
"mark": {"type": "text", "align": "left", "baseline": "alphabetic", "font": "DejaVu Sans", "fontSize": 24, "color": "black"},
"encoding": {
"x": {"field": "f", "type": "quantitative", "scale": {"domain": [15000, 2472500], "nice": false, "zero": false}, "axis": null},
"y": {"field": "p", "type": "quantitative", "scale": {"domain": [-1.79, 6.03], "nice": false, "zero": false}, "axis": null},
"text": {"field": "t"}
}
}
],
"resolve": {"axis": {"x": "independent", "y": "independent"}}
}
